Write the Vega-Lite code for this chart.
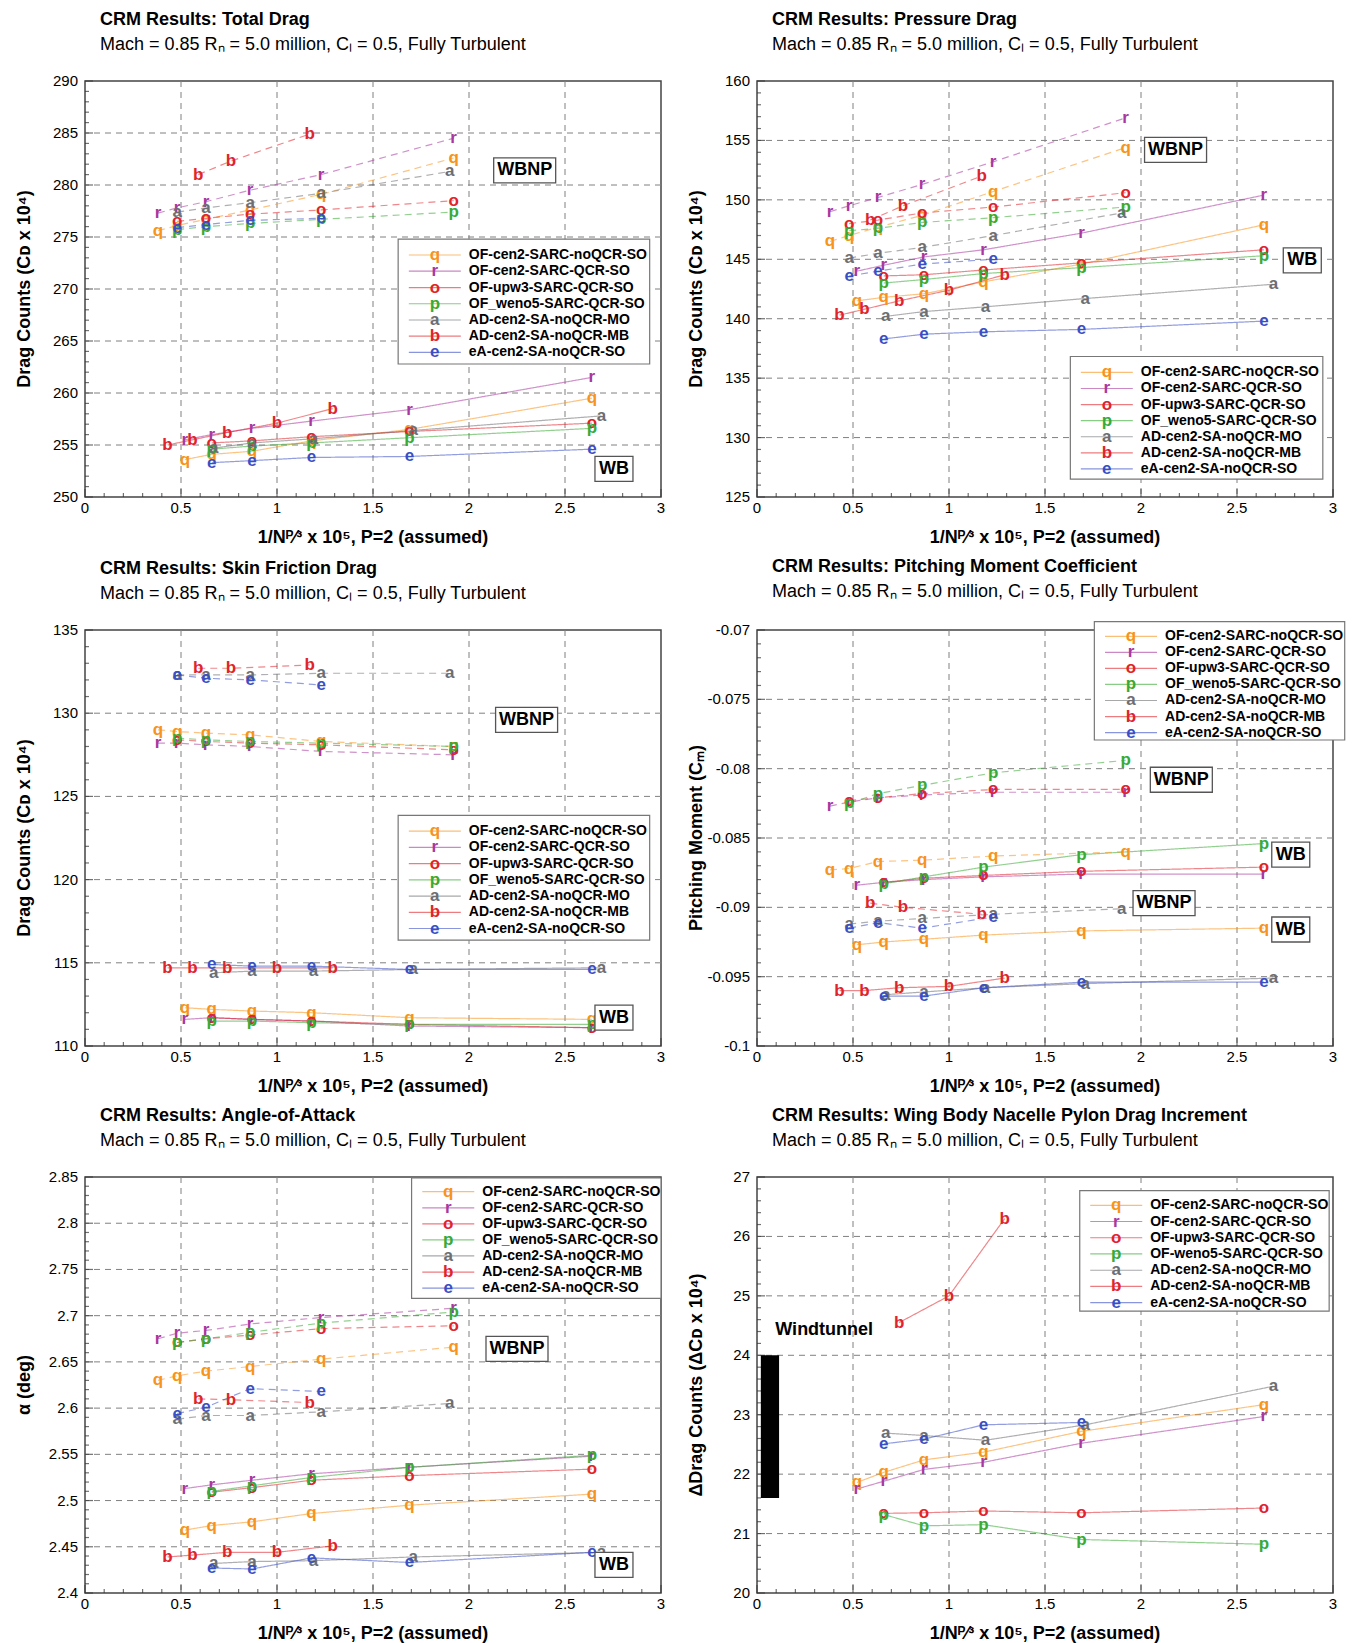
{
"padding":{"left":15,"top":10,"right":0,"bottom":0},
"background":"white",
"spacing":9,
"config":{
 "font":"Liberation Sans",
 "view":{"stroke":"#444","strokeWidth":1.5},
 "axis":{"disable":true},
 "legend":{"disable":true},
 "title":{"anchor":"start","frame":"group","dx":15,"fontSize":18,"fontWeight":"bold","color":"#000","subtitleFontSize":18,"subtitleColor":"#000","subtitlePadding":7,"offset":20}
},
"datasets":{
 "xticks":[{"v":0,"kind":"major","label":"0"},{"v":0.1,"kind":"minor"},{"v":0.2,"kind":"minor"},{"v":0.3,"kind":"minor"},{"v":0.4,"kind":"minor"},{"v":0.5,"kind":"major","label":"0.5"},{"v":0.6,"kind":"minor"},{"v":0.7,"kind":"minor"},{"v":0.8,"kind":"minor"},{"v":0.9,"kind":"minor"},{"v":1,"kind":"major","label":"1"},{"v":1.1,"kind":"minor"},{"v":1.2,"kind":"minor"},{"v":1.3,"kind":"minor"},{"v":1.4,"kind":"minor"},{"v":1.5,"kind":"major","label":"1.5"},{"v":1.6,"kind":"minor"},{"v":1.7,"kind":"minor"},{"v":1.8,"kind":"minor"},{"v":1.9,"kind":"minor"},{"v":2,"kind":"major","label":"2"},{"v":2.1,"kind":"minor"},{"v":2.2,"kind":"minor"},{"v":2.3,"kind":"minor"},{"v":2.4,"kind":"minor"},{"v":2.5,"kind":"major","label":"2.5"},{"v":2.6,"kind":"minor"},{"v":2.7,"kind":"minor"},{"v":2.8,"kind":"minor"},{"v":2.9,"kind":"minor"},{"v":3,"kind":"major","label":"3"}],
 "yticks":[
{"panel":"T","v":250,"kind":"major","label":"250"},{"panel":"T","v":251,"kind":"minor"},{"panel":"T","v":252,"kind":"minor"},{"panel":"T","v":253,"kind":"minor"},{"panel":"T","v":254,"kind":"minor"},{"panel":"T","v":255,"kind":"major","label":"255"},{"panel":"T","v":256,"kind":"minor"},{"panel":"T","v":257,"kind":"minor"},{"panel":"T","v":258,"kind":"minor"},{"panel":"T","v":259,"kind":"minor"},{"panel":"T","v":260,"kind":"major","label":"260"},{"panel":"T","v":261,"kind":"minor"},{"panel":"T","v":262,"kind":"minor"},{"panel":"T","v":263,"kind":"minor"},{"panel":"T","v":264,"kind":"minor"},{"panel":"T","v":265,"kind":"major","label":"265"},{"panel":"T","v":266,"kind":"minor"},{"panel":"T","v":267,"kind":"minor"},{"panel":"T","v":268,"kind":"minor"},{"panel":"T","v":269,"kind":"minor"},{"panel":"T","v":270,"kind":"major","label":"270"},{"panel":"T","v":271,"kind":"minor"},{"panel":"T","v":272,"kind":"minor"},{"panel":"T","v":273,"kind":"minor"},{"panel":"T","v":274,"kind":"minor"},{"panel":"T","v":275,"kind":"major","label":"275"},{"panel":"T","v":276,"kind":"minor"},{"panel":"T","v":277,"kind":"minor"},{"panel":"T","v":278,"kind":"minor"},{"panel":"T","v":279,"kind":"minor"},{"panel":"T","v":280,"kind":"major","label":"280"},{"panel":"T","v":281,"kind":"minor"},{"panel":"T","v":282,"kind":"minor"},{"panel":"T","v":283,"kind":"minor"},{"panel":"T","v":284,"kind":"minor"},{"panel":"T","v":285,"kind":"major","label":"285"},{"panel":"T","v":286,"kind":"minor"},{"panel":"T","v":287,"kind":"minor"},{"panel":"T","v":288,"kind":"minor"},{"panel":"T","v":289,"kind":"minor"},{"panel":"T","v":290,"kind":"major","label":"290"},
{"panel":"P","v":125,"kind":"major","label":"125"},{"panel":"P","v":126,"kind":"minor"},{"panel":"P","v":127,"kind":"minor"},{"panel":"P","v":128,"kind":"minor"},{"panel":"P","v":129,"kind":"minor"},{"panel":"P","v":130,"kind":"major","label":"130"},{"panel":"P","v":131,"kind":"minor"},{"panel":"P","v":132,"kind":"minor"},{"panel":"P","v":133,"kind":"minor"},{"panel":"P","v":134,"kind":"minor"},{"panel":"P","v":135,"kind":"major","label":"135"},{"panel":"P","v":136,"kind":"minor"},{"panel":"P","v":137,"kind":"minor"},{"panel":"P","v":138,"kind":"minor"},{"panel":"P","v":139,"kind":"minor"},{"panel":"P","v":140,"kind":"major","label":"140"},{"panel":"P","v":141,"kind":"minor"},{"panel":"P","v":142,"kind":"minor"},{"panel":"P","v":143,"kind":"minor"},{"panel":"P","v":144,"kind":"minor"},{"panel":"P","v":145,"kind":"major","label":"145"},{"panel":"P","v":146,"kind":"minor"},{"panel":"P","v":147,"kind":"minor"},{"panel":"P","v":148,"kind":"minor"},{"panel":"P","v":149,"kind":"minor"},{"panel":"P","v":150,"kind":"major","label":"150"},{"panel":"P","v":151,"kind":"minor"},{"panel":"P","v":152,"kind":"minor"},{"panel":"P","v":153,"kind":"minor"},{"panel":"P","v":154,"kind":"minor"},{"panel":"P","v":155,"kind":"major","label":"155"},{"panel":"P","v":156,"kind":"minor"},{"panel":"P","v":157,"kind":"minor"},{"panel":"P","v":158,"kind":"minor"},{"panel":"P","v":159,"kind":"minor"},{"panel":"P","v":160,"kind":"major","label":"160"},
{"panel":"S","v":110,"kind":"major","label":"110"},{"panel":"S","v":111,"kind":"minor"},{"panel":"S","v":112,"kind":"minor"},{"panel":"S","v":113,"kind":"minor"},{"panel":"S","v":114,"kind":"minor"},{"panel":"S","v":115,"kind":"major","label":"115"},{"panel":"S","v":116,"kind":"minor"},{"panel":"S","v":117,"kind":"minor"},{"panel":"S","v":118,"kind":"minor"},{"panel":"S","v":119,"kind":"minor"},{"panel":"S","v":120,"kind":"major","label":"120"},{"panel":"S","v":121,"kind":"minor"},{"panel":"S","v":122,"kind":"minor"},{"panel":"S","v":123,"kind":"minor"},{"panel":"S","v":124,"kind":"minor"},{"panel":"S","v":125,"kind":"major","label":"125"},{"panel":"S","v":126,"kind":"minor"},{"panel":"S","v":127,"kind":"minor"},{"panel":"S","v":128,"kind":"minor"},{"panel":"S","v":129,"kind":"minor"},{"panel":"S","v":130,"kind":"major","label":"130"},{"panel":"S","v":131,"kind":"minor"},{"panel":"S","v":132,"kind":"minor"},{"panel":"S","v":133,"kind":"minor"},{"panel":"S","v":134,"kind":"minor"},{"panel":"S","v":135,"kind":"major","label":"135"},
{"panel":"M","v":-0.1,"kind":"major","label":"-0.1"},{"panel":"M","v":-0.099,"kind":"minor"},{"panel":"M","v":-0.098,"kind":"minor"},{"panel":"M","v":-0.097,"kind":"minor"},{"panel":"M","v":-0.096,"kind":"minor"},{"panel":"M","v":-0.095,"kind":"major","label":"-0.095"},{"panel":"M","v":-0.094,"kind":"minor"},{"panel":"M","v":-0.093,"kind":"minor"},{"panel":"M","v":-0.092,"kind":"minor"},{"panel":"M","v":-0.091,"kind":"minor"},{"panel":"M","v":-0.09,"kind":"major","label":"-0.09"},{"panel":"M","v":-0.089,"kind":"minor"},{"panel":"M","v":-0.088,"kind":"minor"},{"panel":"M","v":-0.087,"kind":"minor"},{"panel":"M","v":-0.086,"kind":"minor"},{"panel":"M","v":-0.085,"kind":"major","label":"-0.085"},{"panel":"M","v":-0.084,"kind":"minor"},{"panel":"M","v":-0.083,"kind":"minor"},{"panel":"M","v":-0.082,"kind":"minor"},{"panel":"M","v":-0.081,"kind":"minor"},{"panel":"M","v":-0.08,"kind":"major","label":"-0.08"},{"panel":"M","v":-0.079,"kind":"minor"},{"panel":"M","v":-0.078,"kind":"minor"},{"panel":"M","v":-0.077,"kind":"minor"},{"panel":"M","v":-0.076,"kind":"minor"},{"panel":"M","v":-0.075,"kind":"major","label":"-0.075"},{"panel":"M","v":-0.074,"kind":"minor"},{"panel":"M","v":-0.073,"kind":"minor"},{"panel":"M","v":-0.072,"kind":"minor"},{"panel":"M","v":-0.071,"kind":"minor"},{"panel":"M","v":-0.07,"kind":"major","label":"-0.07"},
{"panel":"A","v":2.4,"kind":"major","label":"2.4"},{"panel":"A","v":2.41,"kind":"minor"},{"panel":"A","v":2.42,"kind":"minor"},{"panel":"A","v":2.43,"kind":"minor"},{"panel":"A","v":2.44,"kind":"minor"},{"panel":"A","v":2.45,"kind":"major","label":"2.45"},{"panel":"A","v":2.46,"kind":"minor"},{"panel":"A","v":2.47,"kind":"minor"},{"panel":"A","v":2.48,"kind":"minor"},{"panel":"A","v":2.49,"kind":"minor"},{"panel":"A","v":2.5,"kind":"major","label":"2.5"},{"panel":"A","v":2.51,"kind":"minor"},{"panel":"A","v":2.52,"kind":"minor"},{"panel":"A","v":2.53,"kind":"minor"},{"panel":"A","v":2.54,"kind":"minor"},{"panel":"A","v":2.55,"kind":"major","label":"2.55"},{"panel":"A","v":2.56,"kind":"minor"},{"panel":"A","v":2.57,"kind":"minor"},{"panel":"A","v":2.58,"kind":"minor"},{"panel":"A","v":2.59,"kind":"minor"},{"panel":"A","v":2.6,"kind":"major","label":"2.6"},{"panel":"A","v":2.61,"kind":"minor"},{"panel":"A","v":2.62,"kind":"minor"},{"panel":"A","v":2.63,"kind":"minor"},{"panel":"A","v":2.64,"kind":"minor"},{"panel":"A","v":2.65,"kind":"major","label":"2.65"},{"panel":"A","v":2.66,"kind":"minor"},{"panel":"A","v":2.67,"kind":"minor"},{"panel":"A","v":2.68,"kind":"minor"},{"panel":"A","v":2.69,"kind":"minor"},{"panel":"A","v":2.7,"kind":"major","label":"2.7"},{"panel":"A","v":2.71,"kind":"minor"},{"panel":"A","v":2.72,"kind":"minor"},{"panel":"A","v":2.73,"kind":"minor"},{"panel":"A","v":2.74,"kind":"minor"},{"panel":"A","v":2.75,"kind":"major","label":"2.75"},{"panel":"A","v":2.76,"kind":"minor"},{"panel":"A","v":2.77,"kind":"minor"},{"panel":"A","v":2.78,"kind":"minor"},{"panel":"A","v":2.79,"kind":"minor"},{"panel":"A","v":2.8,"kind":"major","label":"2.8"},{"panel":"A","v":2.81,"kind":"minor"},{"panel":"A","v":2.82,"kind":"minor"},{"panel":"A","v":2.83,"kind":"minor"},{"panel":"A","v":2.84,"kind":"minor"},{"panel":"A","v":2.85,"kind":"major","label":"2.85"},
{"panel":"I","v":20,"kind":"major","label":"20"},{"panel":"I","v":20.2,"kind":"minor"},{"panel":"I","v":20.4,"kind":"minor"},{"panel":"I","v":20.6,"kind":"minor"},{"panel":"I","v":20.8,"kind":"minor"},{"panel":"I","v":21,"kind":"major","label":"21"},{"panel":"I","v":21.2,"kind":"minor"},{"panel":"I","v":21.4,"kind":"minor"},{"panel":"I","v":21.6,"kind":"minor"},{"panel":"I","v":21.8,"kind":"minor"},{"panel":"I","v":22,"kind":"major","label":"22"},{"panel":"I","v":22.2,"kind":"minor"},{"panel":"I","v":22.4,"kind":"minor"},{"panel":"I","v":22.6,"kind":"minor"},{"panel":"I","v":22.8,"kind":"minor"},{"panel":"I","v":23,"kind":"major","label":"23"},{"panel":"I","v":23.2,"kind":"minor"},{"panel":"I","v":23.4,"kind":"minor"},{"panel":"I","v":23.6,"kind":"minor"},{"panel":"I","v":23.8,"kind":"minor"},{"panel":"I","v":24,"kind":"major","label":"24"},{"panel":"I","v":24.2,"kind":"minor"},{"panel":"I","v":24.4,"kind":"minor"},{"panel":"I","v":24.6,"kind":"minor"},{"panel":"I","v":24.8,"kind":"minor"},{"panel":"I","v":25,"kind":"major","label":"25"},{"panel":"I","v":25.2,"kind":"minor"},{"panel":"I","v":25.4,"kind":"minor"},{"panel":"I","v":25.6,"kind":"minor"},{"panel":"I","v":25.8,"kind":"minor"},{"panel":"I","v":26,"kind":"major","label":"26"},{"panel":"I","v":26.2,"kind":"minor"},{"panel":"I","v":26.4,"kind":"minor"},{"panel":"I","v":26.6,"kind":"minor"},{"panel":"I","v":26.8,"kind":"minor"},{"panel":"I","v":27,"kind":"major","label":"27"}
 ],
 "axtitles":[
{"panel":"T","axis":"x","x":1.5,"y":246.06,"text":"1/Nᴾ⁄³ x 10⁵, P=2 (assumed)"},{"panel":"T","axis":"y","x":-0.3125,"y":270,"text":"Drag Counts (Cᴅ x 10⁴)"},
{"panel":"P","axis":"x","x":1.5,"y":121.55,"text":"1/Nᴾ⁄³ x 10⁵, P=2 (assumed)"},{"panel":"P","axis":"y","x":-0.3125,"y":142.5,"text":"Drag Counts (Cᴅ x 10⁴)"},
{"panel":"S","axis":"x","x":1.5,"y":107.54,"text":"1/Nᴾ⁄³ x 10⁵, P=2 (assumed)"},{"panel":"S","axis":"y","x":-0.3125,"y":122.5,"text":"Drag Counts (Cᴅ x 10⁴)"},
{"panel":"M","axis":"x","x":1.5,"y":-0.102957,"text":"1/Nᴾ⁄³ x 10⁵, P=2 (assumed)"},{"panel":"M","axis":"y","x":-0.3125,"y":-0.085,"text":"Pitching Moment (Cₘ)"},
{"panel":"A","axis":"x","x":1.5,"y":2.35565,"text":"1/Nᴾ⁄³ x 10⁵, P=2 (assumed)"},{"panel":"A","axis":"y","x":-0.3125,"y":2.625,"text":"α (deg)"},
{"panel":"I","axis":"x","x":1.5,"y":19.31,"text":"1/Nᴾ⁄³ x 10⁵, P=2 (assumed)"},{"panel":"I","axis":"y","x":-0.3125,"y":23.5,"text":"ΔDrag Counts (ΔCᴅ x 10⁴)"}
 ],
 "legbox":[{"panel":"T","x":1.631,"x2":2.941,"y":274.79,"y2":262.79},{"panel":"P","x":1.632,"x2":2.947,"y":136.82,"y2":126.51},{"panel":"S","x":1.631,"x2":2.941,"y":123.86,"y2":116.36},{"panel":"M","x":1.757,"x2":3.061,"y":-0.069394,"y2":-0.077933},{"panel":"A","x":1.701,"x2":3.0,"y":2.8489,"y2":2.7186},{"panel":"I","x":1.681,"x2":2.98,"y":26.771,"y2":24.744}],
 "legend":[
{"panel":"T","code":"q","method":"OF-cen2-SARC-noQCR-SO","x":1.822,"y":273.27},{"panel":"T","code":"r","method":"OF-cen2-SARC-QCR-SO","x":1.822,"y":271.71},{"panel":"T","code":"o","method":"OF-upw3-SARC-QCR-SO","x":1.822,"y":270.14},{"panel":"T","code":"p","method":"OF_weno5-SARC-QCR-SO","x":1.822,"y":268.58},{"panel":"T","code":"a","method":"AD-cen2-SA-noQCR-MO","x":1.822,"y":267.02},{"panel":"T","code":"b","method":"AD-cen2-SA-noQCR-MB","x":1.822,"y":265.46},{"panel":"T","code":"e","method":"eA-cen2-SA-noQCR-SO","x":1.822,"y":263.9},
{"panel":"P","code":"q","method":"OF-cen2-SARC-noQCR-SO","x":1.822,"y":135.48},{"panel":"P","code":"r","method":"OF-cen2-SARC-QCR-SO","x":1.822,"y":134.13},{"panel":"P","code":"o","method":"OF-upw3-SARC-QCR-SO","x":1.822,"y":132.77},{"panel":"P","code":"p","method":"OF_weno5-SARC-QCR-SO","x":1.822,"y":131.42},{"panel":"P","code":"a","method":"AD-cen2-SA-noQCR-MO","x":1.822,"y":130.07},{"panel":"P","code":"b","method":"AD-cen2-SA-noQCR-MB","x":1.822,"y":128.72},{"panel":"P","code":"e","method":"eA-cen2-SA-noQCR-SO","x":1.822,"y":127.37},
{"panel":"S","code":"q","method":"OF-cen2-SARC-noQCR-SO","x":1.822,"y":122.91},{"panel":"S","code":"r","method":"OF-cen2-SARC-QCR-SO","x":1.822,"y":121.94},{"panel":"S","code":"o","method":"OF-upw3-SARC-QCR-SO","x":1.822,"y":120.96},{"panel":"S","code":"p","method":"OF_weno5-SARC-QCR-SO","x":1.822,"y":119.98},{"panel":"S","code":"a","method":"AD-cen2-SA-noQCR-MO","x":1.822,"y":119.01},{"panel":"S","code":"b","method":"AD-cen2-SA-noQCR-MB","x":1.822,"y":118.03},{"panel":"S","code":"e","method":"eA-cen2-SA-noQCR-SO","x":1.822,"y":117.06},
{"panel":"M","code":"q","method":"OF-cen2-SARC-noQCR-SO","x":1.948,"y":-0.070454},{"panel":"M","code":"r","method":"OF-cen2-SARC-QCR-SO","x":1.948,"y":-0.071612},{"panel":"M","code":"o","method":"OF-upw3-SARC-QCR-SO","x":1.948,"y":-0.072769},{"panel":"M","code":"p","method":"OF_weno5-SARC-QCR-SO","x":1.948,"y":-0.073927},{"panel":"M","code":"a","method":"AD-cen2-SA-noQCR-MO","x":1.948,"y":-0.075084},{"panel":"M","code":"b","method":"AD-cen2-SA-noQCR-MB","x":1.948,"y":-0.076242},{"panel":"M","code":"e","method":"eA-cen2-SA-noQCR-SO","x":1.948,"y":-0.077399},
{"panel":"A","code":"q","method":"OF-cen2-SARC-noQCR-SO","x":1.892,"y":2.8341},{"panel":"A","code":"r","method":"OF-cen2-SARC-QCR-SO","x":1.892,"y":2.8167},{"panel":"A","code":"o","method":"OF-upw3-SARC-QCR-SO","x":1.892,"y":2.7993},{"panel":"A","code":"p","method":"OF_weno5-SARC-QCR-SO","x":1.892,"y":2.7819},{"panel":"A","code":"a","method":"AD-cen2-SA-noQCR-MO","x":1.892,"y":2.7646},{"panel":"A","code":"b","method":"AD-cen2-SA-noQCR-MB","x":1.892,"y":2.7472},{"panel":"A","code":"e","method":"eA-cen2-SA-noQCR-SO","x":1.892,"y":2.7298},
{"panel":"I","code":"q","method":"OF-cen2-SARC-noQCR-SO","x":1.871,"y":26.524},{"panel":"I","code":"r","method":"OF-cen2-SARC-QCR-SO","x":1.871,"y":26.251},{"panel":"I","code":"o","method":"OF-upw3-SARC-QCR-SO","x":1.871,"y":25.978},{"panel":"I","code":"p","method":"OF-weno5-SARC-QCR-SO","x":1.871,"y":25.705},{"panel":"I","code":"a","method":"AD-cen2-SA-noQCR-MO","x":1.871,"y":25.431},{"panel":"I","code":"b","method":"AD-cen2-SA-noQCR-MB","x":1.871,"y":25.158},{"panel":"I","code":"e","method":"eA-cen2-SA-noQCR-SO","x":1.871,"y":24.885}
 ],
 "notes":[{"panel":"T","label":"WBNP","x":2.29,"y":281.4},{"panel":"T","label":"WB","x":2.755,"y":252.7},{"panel":"P","label":"WBNP","x":2.18,"y":154.2},{"panel":"P","label":"WB","x":2.84,"y":144.9},{"panel":"S","label":"WBNP","x":2.3,"y":129.6},{"panel":"S","label":"WB","x":2.755,"y":111.7},{"panel":"M","label":"WBNP","x":2.21,"y":-0.0808},{"panel":"M","label":"WB","x":2.78,"y":-0.0862},{"panel":"M","label":"WBNP","x":2.12,"y":-0.0897},{"panel":"M","label":"WB","x":2.78,"y":-0.0916},{"panel":"A","label":"WBNP","x":2.25,"y":2.664},{"panel":"A","label":"WB","x":2.755,"y":2.4305},{"panel":"I","label":"Windtunnel","x":0.35,"y":24.42}],
 "bars":[{"panel":"I","x":0.02,"x2":0.115,"y":21.6,"y2":24.0}],
 "pts":[
{"panel":"T","cfg":"WB","code":"q","x":0.52,"y":253.6},{"panel":"T","cfg":"WB","code":"q","x":0.66,"y":254.1},{"panel":"T","cfg":"WB","code":"q","x":0.87,"y":254.4},{"panel":"T","cfg":"WB","code":"q","x":1.18,"y":255.4},{"panel":"T","cfg":"WB","code":"q","x":1.69,"y":256.5},{"panel":"T","cfg":"WB","code":"q","x":2.64,"y":259.5},
{"panel":"T","cfg":"WB","code":"r","x":0.52,"y":255.5},{"panel":"T","cfg":"WB","code":"r","x":0.66,"y":256.0},{"panel":"T","cfg":"WB","code":"r","x":0.87,"y":256.6},{"panel":"T","cfg":"WB","code":"r","x":1.18,"y":257.3},{"panel":"T","cfg":"WB","code":"r","x":1.69,"y":258.4},{"panel":"T","cfg":"WB","code":"r","x":2.64,"y":261.5},
{"panel":"T","cfg":"WB","code":"o","x":0.66,"y":255.2},{"panel":"T","cfg":"WB","code":"o","x":0.87,"y":255.4},{"panel":"T","cfg":"WB","code":"o","x":1.18,"y":255.8},{"panel":"T","cfg":"WB","code":"o","x":1.69,"y":256.3},{"panel":"T","cfg":"WB","code":"o","x":2.64,"y":257.1},
{"panel":"T","cfg":"WB","code":"p","x":0.66,"y":254.6},{"panel":"T","cfg":"WB","code":"p","x":0.87,"y":254.9},{"panel":"T","cfg":"WB","code":"p","x":1.18,"y":255.2},{"panel":"T","cfg":"WB","code":"p","x":1.69,"y":255.7},{"panel":"T","cfg":"WB","code":"p","x":2.64,"y":256.6},
{"panel":"T","cfg":"WB","code":"a","x":0.67,"y":254.7},{"panel":"T","cfg":"WB","code":"a","x":0.87,"y":255.2},{"panel":"T","cfg":"WB","code":"a","x":1.19,"y":255.6},{"panel":"T","cfg":"WB","code":"a","x":1.71,"y":256.4},{"panel":"T","cfg":"WB","code":"a","x":2.69,"y":257.8},
{"panel":"T","cfg":"WB","code":"b","x":0.43,"y":255.0},{"panel":"T","cfg":"WB","code":"b","x":0.56,"y":255.5},{"panel":"T","cfg":"WB","code":"b","x":0.74,"y":256.2},{"panel":"T","cfg":"WB","code":"b","x":1.0,"y":257.1},{"panel":"T","cfg":"WB","code":"b","x":1.29,"y":258.5},
{"panel":"T","cfg":"WB","code":"e","x":0.66,"y":253.3},{"panel":"T","cfg":"WB","code":"e","x":0.87,"y":253.5},{"panel":"T","cfg":"WB","code":"e","x":1.18,"y":253.8},{"panel":"T","cfg":"WB","code":"e","x":1.69,"y":253.9},{"panel":"T","cfg":"WB","code":"e","x":2.64,"y":254.6},
{"panel":"T","cfg":"WBNP","code":"q","x":0.38,"y":275.6},{"panel":"T","cfg":"WBNP","code":"q","x":0.48,"y":276.1},{"panel":"T","cfg":"WBNP","code":"q","x":0.63,"y":276.7},{"panel":"T","cfg":"WBNP","code":"q","x":0.86,"y":277.6},{"panel":"T","cfg":"WBNP","code":"q","x":1.23,"y":279.1},{"panel":"T","cfg":"WBNP","code":"q","x":1.92,"y":282.6},
{"panel":"T","cfg":"WBNP","code":"r","x":0.38,"y":277.3},{"panel":"T","cfg":"WBNP","code":"r","x":0.48,"y":277.8},{"panel":"T","cfg":"WBNP","code":"r","x":0.63,"y":278.4},{"panel":"T","cfg":"WBNP","code":"r","x":0.86,"y":279.5},{"panel":"T","cfg":"WBNP","code":"r","x":1.23,"y":281.0},{"panel":"T","cfg":"WBNP","code":"r","x":1.92,"y":284.5},
{"panel":"T","cfg":"WBNP","code":"o","x":0.48,"y":276.5},{"panel":"T","cfg":"WBNP","code":"o","x":0.63,"y":276.8},{"panel":"T","cfg":"WBNP","code":"o","x":0.86,"y":277.2},{"panel":"T","cfg":"WBNP","code":"o","x":1.23,"y":277.6},{"panel":"T","cfg":"WBNP","code":"o","x":1.92,"y":278.5},
{"panel":"T","cfg":"WBNP","code":"p","x":0.48,"y":275.7},{"panel":"T","cfg":"WBNP","code":"p","x":0.63,"y":276.0},{"panel":"T","cfg":"WBNP","code":"p","x":0.86,"y":276.3},{"panel":"T","cfg":"WBNP","code":"p","x":1.23,"y":276.7},{"panel":"T","cfg":"WBNP","code":"p","x":1.92,"y":277.4},
{"panel":"T","cfg":"WBNP","code":"a","x":0.48,"y":277.4},{"panel":"T","cfg":"WBNP","code":"a","x":0.63,"y":277.8},{"panel":"T","cfg":"WBNP","code":"a","x":0.86,"y":278.3},{"panel":"T","cfg":"WBNP","code":"a","x":1.23,"y":279.2},{"panel":"T","cfg":"WBNP","code":"a","x":1.9,"y":281.3},
{"panel":"T","cfg":"WBNP","code":"b","x":0.59,"y":281.0},{"panel":"T","cfg":"WBNP","code":"b","x":0.76,"y":282.3},{"panel":"T","cfg":"WBNP","code":"b","x":1.17,"y":284.9},
{"panel":"T","cfg":"WBNP","code":"e","x":0.48,"y":275.9},{"panel":"T","cfg":"WBNP","code":"e","x":0.63,"y":276.2},{"panel":"T","cfg":"WBNP","code":"e","x":0.86,"y":276.6},{"panel":"T","cfg":"WBNP","code":"e","x":1.23,"y":276.8},
{"panel":"P","cfg":"WB","code":"q","x":0.52,"y":141.5},{"panel":"P","cfg":"WB","code":"q","x":0.66,"y":141.8},{"panel":"P","cfg":"WB","code":"q","x":0.87,"y":142.1},{"panel":"P","cfg":"WB","code":"q","x":1.18,"y":143.1},{"panel":"P","cfg":"WB","code":"q","x":1.69,"y":144.6},{"panel":"P","cfg":"WB","code":"q","x":2.64,"y":147.9},
{"panel":"P","cfg":"WB","code":"r","x":0.52,"y":144.0},{"panel":"P","cfg":"WB","code":"r","x":0.66,"y":144.5},{"panel":"P","cfg":"WB","code":"r","x":0.87,"y":145.2},{"panel":"P","cfg":"WB","code":"r","x":1.18,"y":145.8},{"panel":"P","cfg":"WB","code":"r","x":1.69,"y":147.2},{"panel":"P","cfg":"WB","code":"r","x":2.64,"y":150.4},
{"panel":"P","cfg":"WB","code":"o","x":0.66,"y":143.6},{"panel":"P","cfg":"WB","code":"o","x":0.87,"y":143.7},{"panel":"P","cfg":"WB","code":"o","x":1.18,"y":144.1},{"panel":"P","cfg":"WB","code":"o","x":1.69,"y":144.7},{"panel":"P","cfg":"WB","code":"o","x":2.64,"y":145.8},
{"panel":"P","cfg":"WB","code":"p","x":0.66,"y":143.0},{"panel":"P","cfg":"WB","code":"p","x":0.87,"y":143.3},{"panel":"P","cfg":"WB","code":"p","x":1.18,"y":143.8},{"panel":"P","cfg":"WB","code":"p","x":1.69,"y":144.3},{"panel":"P","cfg":"WB","code":"p","x":2.64,"y":145.3},
{"panel":"P","cfg":"WB","code":"a","x":0.67,"y":140.2},{"panel":"P","cfg":"WB","code":"a","x":0.87,"y":140.6},{"panel":"P","cfg":"WB","code":"a","x":1.19,"y":141.0},{"panel":"P","cfg":"WB","code":"a","x":1.71,"y":141.7},{"panel":"P","cfg":"WB","code":"a","x":2.69,"y":142.9},
{"panel":"P","cfg":"WB","code":"b","x":0.43,"y":140.3},{"panel":"P","cfg":"WB","code":"b","x":0.56,"y":140.8},{"panel":"P","cfg":"WB","code":"b","x":0.74,"y":141.5},{"panel":"P","cfg":"WB","code":"b","x":1.0,"y":142.4},{"panel":"P","cfg":"WB","code":"b","x":1.29,"y":143.7},
{"panel":"P","cfg":"WB","code":"e","x":0.66,"y":138.3},{"panel":"P","cfg":"WB","code":"e","x":0.87,"y":138.7},{"panel":"P","cfg":"WB","code":"e","x":1.18,"y":138.9},{"panel":"P","cfg":"WB","code":"e","x":1.69,"y":139.1},{"panel":"P","cfg":"WB","code":"e","x":2.64,"y":139.8},
{"panel":"P","cfg":"WBNP","code":"q","x":0.38,"y":146.5},{"panel":"P","cfg":"WBNP","code":"q","x":0.48,"y":147.0},{"panel":"P","cfg":"WBNP","code":"q","x":0.63,"y":147.7},{"panel":"P","cfg":"WBNP","code":"q","x":0.86,"y":148.7},{"panel":"P","cfg":"WBNP","code":"q","x":1.23,"y":150.7},{"panel":"P","cfg":"WBNP","code":"q","x":1.92,"y":154.4},
{"panel":"P","cfg":"WBNP","code":"r","x":0.38,"y":149.0},{"panel":"P","cfg":"WBNP","code":"r","x":0.48,"y":149.5},{"panel":"P","cfg":"WBNP","code":"r","x":0.63,"y":150.2},{"panel":"P","cfg":"WBNP","code":"r","x":0.86,"y":151.3},{"panel":"P","cfg":"WBNP","code":"r","x":1.23,"y":153.2},{"panel":"P","cfg":"WBNP","code":"r","x":1.92,"y":156.9},
{"panel":"P","cfg":"WBNP","code":"o","x":0.48,"y":148.0},{"panel":"P","cfg":"WBNP","code":"o","x":0.63,"y":148.3},{"panel":"P","cfg":"WBNP","code":"o","x":0.86,"y":148.9},{"panel":"P","cfg":"WBNP","code":"o","x":1.23,"y":149.4},{"panel":"P","cfg":"WBNP","code":"o","x":1.92,"y":150.6},
{"panel":"P","cfg":"WBNP","code":"p","x":0.48,"y":147.4},{"panel":"P","cfg":"WBNP","code":"p","x":0.63,"y":147.6},{"panel":"P","cfg":"WBNP","code":"p","x":0.86,"y":148.1},{"panel":"P","cfg":"WBNP","code":"p","x":1.23,"y":148.5},{"panel":"P","cfg":"WBNP","code":"p","x":1.92,"y":149.4},
{"panel":"P","cfg":"WBNP","code":"a","x":0.48,"y":145.1},{"panel":"P","cfg":"WBNP","code":"a","x":0.63,"y":145.5},{"panel":"P","cfg":"WBNP","code":"a","x":0.86,"y":146.0},{"panel":"P","cfg":"WBNP","code":"a","x":1.23,"y":147.0},{"panel":"P","cfg":"WBNP","code":"a","x":1.9,"y":148.9},
{"panel":"P","cfg":"WBNP","code":"b","x":0.59,"y":148.3},{"panel":"P","cfg":"WBNP","code":"b","x":0.76,"y":149.5},{"panel":"P","cfg":"WBNP","code":"b","x":1.17,"y":152.0},
{"panel":"P","cfg":"WBNP","code":"e","x":0.48,"y":143.6},{"panel":"P","cfg":"WBNP","code":"e","x":0.63,"y":144.0},{"panel":"P","cfg":"WBNP","code":"e","x":0.86,"y":144.6},{"panel":"P","cfg":"WBNP","code":"e","x":1.23,"y":145.0},
{"panel":"S","cfg":"WB","code":"q","x":0.52,"y":112.3},{"panel":"S","cfg":"WB","code":"q","x":0.66,"y":112.2},{"panel":"S","cfg":"WB","code":"q","x":0.87,"y":112.1},{"panel":"S","cfg":"WB","code":"q","x":1.18,"y":112.0},{"panel":"S","cfg":"WB","code":"q","x":1.69,"y":111.7},{"panel":"S","cfg":"WB","code":"q","x":2.64,"y":111.6},
{"panel":"S","cfg":"WB","code":"r","x":0.52,"y":111.6},{"panel":"S","cfg":"WB","code":"r","x":0.66,"y":111.7},{"panel":"S","cfg":"WB","code":"r","x":0.87,"y":111.6},{"panel":"S","cfg":"WB","code":"r","x":1.18,"y":111.5},{"panel":"S","cfg":"WB","code":"r","x":1.69,"y":111.2},{"panel":"S","cfg":"WB","code":"r","x":2.64,"y":111.1},
{"panel":"S","cfg":"WB","code":"o","x":0.66,"y":111.7},{"panel":"S","cfg":"WB","code":"o","x":0.87,"y":111.6},{"panel":"S","cfg":"WB","code":"o","x":1.18,"y":111.5},{"panel":"S","cfg":"WB","code":"o","x":1.69,"y":111.3},{"panel":"S","cfg":"WB","code":"o","x":2.64,"y":111.1},
{"panel":"S","cfg":"WB","code":"p","x":0.66,"y":111.5},{"panel":"S","cfg":"WB","code":"p","x":0.87,"y":111.5},{"panel":"S","cfg":"WB","code":"p","x":1.18,"y":111.4},{"panel":"S","cfg":"WB","code":"p","x":1.69,"y":111.3},{"panel":"S","cfg":"WB","code":"p","x":2.64,"y":111.3},
{"panel":"S","cfg":"WB","code":"a","x":0.67,"y":114.4},{"panel":"S","cfg":"WB","code":"a","x":0.87,"y":114.5},{"panel":"S","cfg":"WB","code":"a","x":1.19,"y":114.5},{"panel":"S","cfg":"WB","code":"a","x":1.71,"y":114.6},{"panel":"S","cfg":"WB","code":"a","x":2.69,"y":114.7},
{"panel":"S","cfg":"WB","code":"b","x":0.43,"y":114.7},{"panel":"S","cfg":"WB","code":"b","x":0.56,"y":114.7},{"panel":"S","cfg":"WB","code":"b","x":0.74,"y":114.7},{"panel":"S","cfg":"WB","code":"b","x":1.0,"y":114.7},{"panel":"S","cfg":"WB","code":"b","x":1.29,"y":114.7},
{"panel":"S","cfg":"WB","code":"e","x":0.66,"y":114.9},{"panel":"S","cfg":"WB","code":"e","x":0.87,"y":114.8},{"panel":"S","cfg":"WB","code":"e","x":1.18,"y":114.8},{"panel":"S","cfg":"WB","code":"e","x":1.69,"y":114.6},{"panel":"S","cfg":"WB","code":"e","x":2.64,"y":114.6},
{"panel":"S","cfg":"WBNP","code":"q","x":0.38,"y":129.0},{"panel":"S","cfg":"WBNP","code":"q","x":0.48,"y":128.9},{"panel":"S","cfg":"WBNP","code":"q","x":0.63,"y":128.8},{"panel":"S","cfg":"WBNP","code":"q","x":0.86,"y":128.7},{"panel":"S","cfg":"WBNP","code":"q","x":1.23,"y":128.3},{"panel":"S","cfg":"WBNP","code":"q","x":1.92,"y":128.0},
{"panel":"S","cfg":"WBNP","code":"r","x":0.38,"y":128.2},{"panel":"S","cfg":"WBNP","code":"r","x":0.48,"y":128.2},{"panel":"S","cfg":"WBNP","code":"r","x":0.63,"y":128.1},{"panel":"S","cfg":"WBNP","code":"r","x":0.86,"y":128.0},{"panel":"S","cfg":"WBNP","code":"r","x":1.23,"y":127.7},{"panel":"S","cfg":"WBNP","code":"r","x":1.92,"y":127.5},
{"panel":"S","cfg":"WBNP","code":"o","x":0.48,"y":128.4},{"panel":"S","cfg":"WBNP","code":"o","x":0.63,"y":128.3},{"panel":"S","cfg":"WBNP","code":"o","x":0.86,"y":128.2},{"panel":"S","cfg":"WBNP","code":"o","x":1.23,"y":128.1},{"panel":"S","cfg":"WBNP","code":"o","x":1.92,"y":127.8},
{"panel":"S","cfg":"WBNP","code":"p","x":0.48,"y":128.5},{"panel":"S","cfg":"WBNP","code":"p","x":0.63,"y":128.4},{"panel":"S","cfg":"WBNP","code":"p","x":0.86,"y":128.3},{"panel":"S","cfg":"WBNP","code":"p","x":1.23,"y":128.2},{"panel":"S","cfg":"WBNP","code":"p","x":1.92,"y":128.0},
{"panel":"S","cfg":"WBNP","code":"a","x":0.48,"y":132.3},{"panel":"S","cfg":"WBNP","code":"a","x":0.63,"y":132.3},{"panel":"S","cfg":"WBNP","code":"a","x":0.86,"y":132.3},{"panel":"S","cfg":"WBNP","code":"a","x":1.23,"y":132.4},{"panel":"S","cfg":"WBNP","code":"a","x":1.9,"y":132.4},
{"panel":"S","cfg":"WBNP","code":"b","x":0.59,"y":132.7},{"panel":"S","cfg":"WBNP","code":"b","x":0.76,"y":132.7},{"panel":"S","cfg":"WBNP","code":"b","x":1.17,"y":132.9},
{"panel":"S","cfg":"WBNP","code":"e","x":0.48,"y":132.3},{"panel":"S","cfg":"WBNP","code":"e","x":0.63,"y":132.1},{"panel":"S","cfg":"WBNP","code":"e","x":0.86,"y":132.0},{"panel":"S","cfg":"WBNP","code":"e","x":1.23,"y":131.7},
{"panel":"M","cfg":"WB","code":"q","x":0.52,"y":-0.0927},{"panel":"M","cfg":"WB","code":"q","x":0.66,"y":-0.0925},{"panel":"M","cfg":"WB","code":"q","x":0.87,"y":-0.0923},{"panel":"M","cfg":"WB","code":"q","x":1.18,"y":-0.092},{"panel":"M","cfg":"WB","code":"q","x":1.69,"y":-0.0917},{"panel":"M","cfg":"WB","code":"q","x":2.64,"y":-0.0915},
{"panel":"M","cfg":"WB","code":"r","x":0.52,"y":-0.0884},{"panel":"M","cfg":"WB","code":"r","x":0.66,"y":-0.0882},{"panel":"M","cfg":"WB","code":"r","x":0.87,"y":-0.088},{"panel":"M","cfg":"WB","code":"r","x":1.18,"y":-0.0878},{"panel":"M","cfg":"WB","code":"r","x":1.69,"y":-0.0876},{"panel":"M","cfg":"WB","code":"r","x":2.64,"y":-0.0876},
{"panel":"M","cfg":"WB","code":"o","x":0.66,"y":-0.0882},{"panel":"M","cfg":"WB","code":"o","x":0.87,"y":-0.0879},{"panel":"M","cfg":"WB","code":"o","x":1.18,"y":-0.0877},{"panel":"M","cfg":"WB","code":"o","x":1.69,"y":-0.0874},{"panel":"M","cfg":"WB","code":"o","x":2.64,"y":-0.0871},
{"panel":"M","cfg":"WB","code":"p","x":0.66,"y":-0.0883},{"panel":"M","cfg":"WB","code":"p","x":0.87,"y":-0.0878},{"panel":"M","cfg":"WB","code":"p","x":1.18,"y":-0.0871},{"panel":"M","cfg":"WB","code":"p","x":1.69,"y":-0.0862},{"panel":"M","cfg":"WB","code":"p","x":2.64,"y":-0.0854},
{"panel":"M","cfg":"WB","code":"a","x":0.67,"y":-0.0963},{"panel":"M","cfg":"WB","code":"a","x":0.87,"y":-0.0961},{"panel":"M","cfg":"WB","code":"a","x":1.19,"y":-0.0958},{"panel":"M","cfg":"WB","code":"a","x":1.71,"y":-0.0955},{"panel":"M","cfg":"WB","code":"a","x":2.69,"y":-0.0951},
{"panel":"M","cfg":"WB","code":"b","x":0.43,"y":-0.096},{"panel":"M","cfg":"WB","code":"b","x":0.56,"y":-0.096},{"panel":"M","cfg":"WB","code":"b","x":0.74,"y":-0.0958},{"panel":"M","cfg":"WB","code":"b","x":1.0,"y":-0.0957},{"panel":"M","cfg":"WB","code":"b","x":1.29,"y":-0.0951},
{"panel":"M","cfg":"WB","code":"e","x":0.66,"y":-0.0964},{"panel":"M","cfg":"WB","code":"e","x":0.87,"y":-0.0964},{"panel":"M","cfg":"WB","code":"e","x":1.18,"y":-0.0958},{"panel":"M","cfg":"WB","code":"e","x":1.69,"y":-0.0954},{"panel":"M","cfg":"WB","code":"e","x":2.64,"y":-0.0954},
{"panel":"M","cfg":"WBNP","code":"q","x":0.38,"y":-0.0873},{"panel":"M","cfg":"WBNP","code":"q","x":0.48,"y":-0.0872},{"panel":"M","cfg":"WBNP","code":"q","x":0.63,"y":-0.0867},{"panel":"M","cfg":"WBNP","code":"q","x":0.86,"y":-0.0866},{"panel":"M","cfg":"WBNP","code":"q","x":1.23,"y":-0.0863},{"panel":"M","cfg":"WBNP","code":"q","x":1.92,"y":-0.086},
{"panel":"M","cfg":"WBNP","code":"r","x":0.38,"y":-0.0827},{"panel":"M","cfg":"WBNP","code":"r","x":0.48,"y":-0.0824},{"panel":"M","cfg":"WBNP","code":"r","x":0.63,"y":-0.0821},{"panel":"M","cfg":"WBNP","code":"r","x":0.86,"y":-0.0819},{"panel":"M","cfg":"WBNP","code":"r","x":1.23,"y":-0.0817},{"panel":"M","cfg":"WBNP","code":"r","x":1.92,"y":-0.0817},
{"panel":"M","cfg":"WBNP","code":"o","x":0.48,"y":-0.0823},{"panel":"M","cfg":"WBNP","code":"o","x":0.63,"y":-0.0821},{"panel":"M","cfg":"WBNP","code":"o","x":0.86,"y":-0.0818},{"panel":"M","cfg":"WBNP","code":"o","x":1.23,"y":-0.0815},{"panel":"M","cfg":"WBNP","code":"o","x":1.92,"y":-0.0815},
{"panel":"M","cfg":"WBNP","code":"p","x":0.48,"y":-0.0825},{"panel":"M","cfg":"WBNP","code":"p","x":0.63,"y":-0.0818},{"panel":"M","cfg":"WBNP","code":"p","x":0.86,"y":-0.0812},{"panel":"M","cfg":"WBNP","code":"p","x":1.23,"y":-0.0803},{"panel":"M","cfg":"WBNP","code":"p","x":1.92,"y":-0.0794},
{"panel":"M","cfg":"WBNP","code":"a","x":0.48,"y":-0.0912},{"panel":"M","cfg":"WBNP","code":"a","x":0.63,"y":-0.091},{"panel":"M","cfg":"WBNP","code":"a","x":0.86,"y":-0.0908},{"panel":"M","cfg":"WBNP","code":"a","x":1.23,"y":-0.0905},{"panel":"M","cfg":"WBNP","code":"a","x":1.9,"y":-0.0901},
{"panel":"M","cfg":"WBNP","code":"b","x":0.59,"y":-0.0897},{"panel":"M","cfg":"WBNP","code":"b","x":0.76,"y":-0.09},{"panel":"M","cfg":"WBNP","code":"b","x":1.17,"y":-0.0905},
{"panel":"M","cfg":"WBNP","code":"e","x":0.48,"y":-0.0915},{"panel":"M","cfg":"WBNP","code":"e","x":0.63,"y":-0.0911},{"panel":"M","cfg":"WBNP","code":"e","x":0.86,"y":-0.0915},{"panel":"M","cfg":"WBNP","code":"e","x":1.23,"y":-0.0907},
{"panel":"A","cfg":"WB","code":"q","x":0.52,"y":2.468},{"panel":"A","cfg":"WB","code":"q","x":0.66,"y":2.473},{"panel":"A","cfg":"WB","code":"q","x":0.87,"y":2.477},{"panel":"A","cfg":"WB","code":"q","x":1.18,"y":2.486},{"panel":"A","cfg":"WB","code":"q","x":1.69,"y":2.495},{"panel":"A","cfg":"WB","code":"q","x":2.64,"y":2.507},
{"panel":"A","cfg":"WB","code":"r","x":0.52,"y":2.513},{"panel":"A","cfg":"WB","code":"r","x":0.66,"y":2.517},{"panel":"A","cfg":"WB","code":"r","x":0.87,"y":2.522},{"panel":"A","cfg":"WB","code":"r","x":1.18,"y":2.529},{"panel":"A","cfg":"WB","code":"r","x":1.69,"y":2.536},{"panel":"A","cfg":"WB","code":"r","x":2.64,"y":2.548},
{"panel":"A","cfg":"WB","code":"o","x":0.66,"y":2.509},{"panel":"A","cfg":"WB","code":"o","x":0.87,"y":2.514},{"panel":"A","cfg":"WB","code":"o","x":1.18,"y":2.522},{"panel":"A","cfg":"WB","code":"o","x":1.69,"y":2.527},{"panel":"A","cfg":"WB","code":"o","x":2.64,"y":2.534},
{"panel":"A","cfg":"WB","code":"p","x":0.66,"y":2.51},{"panel":"A","cfg":"WB","code":"p","x":0.87,"y":2.516},{"panel":"A","cfg":"WB","code":"p","x":1.18,"y":2.525},{"panel":"A","cfg":"WB","code":"p","x":1.69,"y":2.536},{"panel":"A","cfg":"WB","code":"p","x":2.64,"y":2.549},
{"panel":"A","cfg":"WB","code":"a","x":0.67,"y":2.432},{"panel":"A","cfg":"WB","code":"a","x":0.87,"y":2.434},{"panel":"A","cfg":"WB","code":"a","x":1.19,"y":2.435},{"panel":"A","cfg":"WB","code":"a","x":1.71,"y":2.439},{"panel":"A","cfg":"WB","code":"a","x":2.69,"y":2.444},
{"panel":"A","cfg":"WB","code":"b","x":0.43,"y":2.439},{"panel":"A","cfg":"WB","code":"b","x":0.56,"y":2.441},{"panel":"A","cfg":"WB","code":"b","x":0.74,"y":2.444},{"panel":"A","cfg":"WB","code":"b","x":1.0,"y":2.444},{"panel":"A","cfg":"WB","code":"b","x":1.29,"y":2.451},
{"panel":"A","cfg":"WB","code":"e","x":0.66,"y":2.427},{"panel":"A","cfg":"WB","code":"e","x":0.87,"y":2.426},{"panel":"A","cfg":"WB","code":"e","x":1.18,"y":2.438},{"panel":"A","cfg":"WB","code":"e","x":1.69,"y":2.433},{"panel":"A","cfg":"WB","code":"e","x":2.64,"y":2.444},
{"panel":"A","cfg":"WBNP","code":"q","x":0.38,"y":2.63},{"panel":"A","cfg":"WBNP","code":"q","x":0.48,"y":2.635},{"panel":"A","cfg":"WBNP","code":"q","x":0.63,"y":2.64},{"panel":"A","cfg":"WBNP","code":"q","x":0.86,"y":2.645},{"panel":"A","cfg":"WBNP","code":"q","x":1.23,"y":2.653},{"panel":"A","cfg":"WBNP","code":"q","x":1.92,"y":2.666},
{"panel":"A","cfg":"WBNP","code":"r","x":0.38,"y":2.675},{"panel":"A","cfg":"WBNP","code":"r","x":0.48,"y":2.681},{"panel":"A","cfg":"WBNP","code":"r","x":0.63,"y":2.684},{"panel":"A","cfg":"WBNP","code":"r","x":0.86,"y":2.691},{"panel":"A","cfg":"WBNP","code":"r","x":1.23,"y":2.698},{"panel":"A","cfg":"WBNP","code":"r","x":1.92,"y":2.708},
{"panel":"A","cfg":"WBNP","code":"o","x":0.48,"y":2.671},{"panel":"A","cfg":"WBNP","code":"o","x":0.63,"y":2.675},{"panel":"A","cfg":"WBNP","code":"o","x":0.86,"y":2.679},{"panel":"A","cfg":"WBNP","code":"o","x":1.23,"y":2.686},{"panel":"A","cfg":"WBNP","code":"o","x":1.92,"y":2.689},
{"panel":"A","cfg":"WBNP","code":"p","x":0.48,"y":2.671},{"panel":"A","cfg":"WBNP","code":"p","x":0.63,"y":2.675},{"panel":"A","cfg":"WBNP","code":"p","x":0.86,"y":2.682},{"panel":"A","cfg":"WBNP","code":"p","x":1.23,"y":2.692},{"panel":"A","cfg":"WBNP","code":"p","x":1.92,"y":2.704},
{"panel":"A","cfg":"WBNP","code":"a","x":0.48,"y":2.588},{"panel":"A","cfg":"WBNP","code":"a","x":0.63,"y":2.592},{"panel":"A","cfg":"WBNP","code":"a","x":0.86,"y":2.592},{"panel":"A","cfg":"WBNP","code":"a","x":1.23,"y":2.596},{"panel":"A","cfg":"WBNP","code":"a","x":1.9,"y":2.605},
{"panel":"A","cfg":"WBNP","code":"b","x":0.59,"y":2.61},{"panel":"A","cfg":"WBNP","code":"b","x":0.76,"y":2.609},{"panel":"A","cfg":"WBNP","code":"b","x":1.17,"y":2.606},
{"panel":"A","cfg":"WBNP","code":"e","x":0.48,"y":2.594},{"panel":"A","cfg":"WBNP","code":"e","x":0.63,"y":2.601},{"panel":"A","cfg":"WBNP","code":"e","x":0.86,"y":2.621},{"panel":"A","cfg":"WBNP","code":"e","x":1.23,"y":2.618},
{"panel":"I","cfg":"WB","code":"q","x":0.52,"y":21.86},{"panel":"I","cfg":"WB","code":"q","x":0.66,"y":22.03},{"panel":"I","cfg":"WB","code":"q","x":0.87,"y":22.24},{"panel":"I","cfg":"WB","code":"q","x":1.18,"y":22.37},{"panel":"I","cfg":"WB","code":"q","x":1.69,"y":22.72},{"panel":"I","cfg":"WB","code":"q","x":2.64,"y":23.17},
{"panel":"I","cfg":"WB","code":"r","x":0.52,"y":21.75},{"panel":"I","cfg":"WB","code":"r","x":0.66,"y":21.88},{"panel":"I","cfg":"WB","code":"r","x":0.87,"y":22.08},{"panel":"I","cfg":"WB","code":"r","x":1.18,"y":22.2},{"panel":"I","cfg":"WB","code":"r","x":1.69,"y":22.52},{"panel":"I","cfg":"WB","code":"r","x":2.64,"y":22.97},
{"panel":"I","cfg":"WB","code":"o","x":0.66,"y":21.34},{"panel":"I","cfg":"WB","code":"o","x":0.87,"y":21.35},{"panel":"I","cfg":"WB","code":"o","x":1.18,"y":21.38},{"panel":"I","cfg":"WB","code":"o","x":1.69,"y":21.35},{"panel":"I","cfg":"WB","code":"o","x":2.64,"y":21.43},
{"panel":"I","cfg":"WB","code":"p","x":0.66,"y":21.32},{"panel":"I","cfg":"WB","code":"p","x":0.87,"y":21.13},{"panel":"I","cfg":"WB","code":"p","x":1.18,"y":21.15},{"panel":"I","cfg":"WB","code":"p","x":1.69,"y":20.9},{"panel":"I","cfg":"WB","code":"p","x":2.64,"y":20.82},
{"panel":"I","cfg":"WB","code":"a","x":0.67,"y":22.69},{"panel":"I","cfg":"WB","code":"a","x":0.87,"y":22.65},{"panel":"I","cfg":"WB","code":"a","x":1.19,"y":22.57},{"panel":"I","cfg":"WB","code":"a","x":1.71,"y":22.83},{"panel":"I","cfg":"WB","code":"a","x":2.69,"y":23.48},
{"panel":"I","cfg":"WB","code":"b","x":0.74,"y":24.55},{"panel":"I","cfg":"WB","code":"b","x":1.0,"y":25.0},{"panel":"I","cfg":"WB","code":"b","x":1.29,"y":26.3},
{"panel":"I","cfg":"WB","code":"e","x":0.66,"y":22.51},{"panel":"I","cfg":"WB","code":"e","x":0.87,"y":22.59},{"panel":"I","cfg":"WB","code":"e","x":1.18,"y":22.83},{"panel":"I","cfg":"WB","code":"e","x":1.69,"y":22.87}
 ]
},
"vconcat":[
{"spacing":21,"hconcat":[
{"width":576,"height":416,
 "title":{"text":"CRM Results: Total Drag","subtitle":"Mach = 0.85 Rₙ = 5.0 million, Cₗ = 0.5, Fully Turbulent"},
 "layer":[
  {"data":{"name":"xticks"},"transform":[{"filter":"datum.kind=='major' && datum.v>0 && datum.v<3"}],"mark":{"type":"rule","color":"#808080","strokeDash":[6,5],"strokeWidth":1},"encoding":{"x":{"field":"v","type":"quantitative","scale":{"domain":[0,3],"nice":false,"zero":false}}}},
  {"data":{"name":"yticks"},"transform":[{"filter":"datum.panel=='T' && datum.kind=='major' && datum.v>250 && datum.v<290"}],"mark":{"type":"rule","color":"#808080","strokeDash":[6,5],"strokeWidth":1},"encoding":{"y":{"field":"v","type":"quantitative","scale":{"domain":[250,290],"nice":false,"zero":false}}}},
  {"data":{"name":"xticks"},"transform":[{"filter":"datum.kind=='major'"}],"mark":{"type":"tick","orient":"vertical","size":8,"thickness":1.2,"yOffset":-4,"color":"#333"},"encoding":{"x":{"field":"v","type":"quantitative"},"y":{"datum":250}}},
  {"data":{"name":"xticks"},"transform":[{"filter":"datum.kind=='minor'"}],"mark":{"type":"tick","orient":"vertical","size":4,"thickness":1.2,"yOffset":-2,"color":"#333"},"encoding":{"x":{"field":"v","type":"quantitative"},"y":{"datum":250}}},
  {"data":{"name":"yticks"},"transform":[{"filter":"datum.panel=='T' && datum.kind=='major'"}],"mark":{"type":"tick","orient":"horizontal","size":8,"thickness":1.2,"xOffset":4,"color":"#333"},"encoding":{"y":{"field":"v","type":"quantitative"},"x":{"datum":0}}},
  {"data":{"name":"yticks"},"transform":[{"filter":"datum.panel=='T' && datum.kind=='minor'"}],"mark":{"type":"tick","orient":"horizontal","size":4,"thickness":1.2,"xOffset":2,"color":"#333"},"encoding":{"y":{"field":"v","type":"quantitative"},"x":{"datum":0}}},
  {"data":{"name":"xticks"},"transform":[{"filter":"datum.kind=='major'"}],"mark":{"type":"text","fontSize":15,"baseline":"middle","dy":11,"color":"#000"},"encoding":{"x":{"field":"v","type":"quantitative"},"y":{"datum":250},"text":{"field":"label"}}},
  {"data":{"name":"yticks"},"transform":[{"filter":"datum.panel=='T' && datum.kind=='major'"}],"mark":{"type":"text","fontSize":15,"align":"right","baseline":"middle","dx":-7,"color":"#000"},"encoding":{"y":{"field":"v","type":"quantitative"},"x":{"datum":0},"text":{"field":"label"}}},
  {"data":{"name":"axtitles"},"transform":[{"filter":"datum.panel=='T' && datum.axis=='x'"}],"mark":{"type":"text","fontSize":18,"fontWeight":"bold","baseline":"middle","color":"#000"},"encoding":{"x":{"field":"x","type":"quantitative"},"y":{"field":"y","type":"quantitative"},"text":{"field":"text"}}},
  {"data":{"name":"axtitles"},"transform":[{"filter":"datum.panel=='T' && datum.axis=='y'"}],"mark":{"type":"text","fontSize":18,"fontWeight":"bold","baseline":"middle","angle":270,"color":"#000"},"encoding":{"x":{"field":"x","type":"quantitative"},"y":{"field":"y","type":"quantitative"},"text":{"field":"text"}}},
  {"data":{"name":"pts"},"transform":[{"filter":"datum.panel=='T'"}],"mark":{"type":"line","strokeWidth":1.2,"opacity":0.55},"encoding":{"x":{"field":"x","type":"quantitative"},"y":{"field":"y","type":"quantitative"},"color":{"field":"code","type":"nominal","scale":{"domain":["q","r","o","p","a","b","e"],"range":["#F7941D","#A8389F","#E0242B","#3AAA35","#6D6E71","#E0242B","#3A4FC4"]}},"strokeDash":{"field":"cfg","type":"nominal","scale":{"domain":["WB","WBNP"],"range":[[1,0],[7,5]]}}}},
  {"data":{"name":"pts"},"transform":[{"filter":"datum.panel=='T'"}],"mark":{"type":"text","fontSize":17,"fontWeight":"bold","baseline":"middle"},"encoding":{"x":{"field":"x","type":"quantitative"},"y":{"field":"y","type":"quantitative"},"color":{"field":"code","type":"nominal"},"text":{"field":"code"}}},
  {"data":{"name":"legbox"},"transform":[{"filter":"datum.panel=='T'"}],"mark":{"type":"rect","fill":"#fff","stroke":"#777","strokeWidth":1.2},"encoding":{"x":{"field":"x","type":"quantitative"},"x2":{"field":"x2"},"y":{"field":"y","type":"quantitative"},"y2":{"field":"y2"}}},
  {"data":{"name":"legend"},"transform":[{"filter":"datum.panel=='T'"}],"mark":{"type":"tick","orient":"horizontal","size":52,"thickness":1.2,"opacity":0.6},"encoding":{"x":{"field":"x","type":"quantitative"},"y":{"field":"y","type":"quantitative"},"color":{"field":"code","type":"nominal"}}},
  {"data":{"name":"legend"},"transform":[{"filter":"datum.panel=='T'"}],"mark":{"type":"text","fontSize":17,"fontWeight":"bold","baseline":"middle"},"encoding":{"x":{"field":"x","type":"quantitative"},"y":{"field":"y","type":"quantitative"},"color":{"field":"code","type":"nominal"},"text":{"field":"code"}}},
  {"data":{"name":"legend"},"transform":[{"filter":"datum.panel=='T'"}],"mark":{"type":"text","fontSize":14,"fontWeight":"bold","align":"left","baseline":"middle","dx":34,"color":"#000"},"encoding":{"x":{"field":"x","type":"quantitative"},"y":{"field":"y","type":"quantitative"},"text":{"field":"method"}}},
  {"data":{"name":"notes"},"transform":[{"filter":"datum.panel=='T' && datum.label=='WBNP'"}],"mark":{"type":"point","shape":"M-31 -12.5H31V12.5H-31Z","size":4,"filled":true,"fill":"#fff","stroke":"#555","strokeWidth":1.3,"opacity":1},"encoding":{"x":{"field":"x","type":"quantitative"},"y":{"field":"y","type":"quantitative"}}},
  {"data":{"name":"notes"},"transform":[{"filter":"datum.panel=='T' && datum.label=='WB'"}],"mark":{"type":"point","shape":"M-19 -12.5H19V12.5H-19Z","size":4,"filled":true,"fill":"#fff","stroke":"#555","strokeWidth":1.3,"opacity":1},"encoding":{"x":{"field":"x","type":"quantitative"},"y":{"field":"y","type":"quantitative"}}},
  {"data":{"name":"notes"},"transform":[{"filter":"datum.panel=='T'"}],"mark":{"type":"text","fontSize":18,"fontWeight":"bold","baseline":"middle","color":"#000"},"encoding":{"x":{"field":"x","type":"quantitative"},"y":{"field":"y","type":"quantitative"},"text":{"field":"label"}}}
 ]},
{"width":576,"height":416,
 "title":{"text":"CRM Results: Pressure Drag","subtitle":"Mach = 0.85 Rₙ = 5.0 million, Cₗ = 0.5, Fully Turbulent"},
 "layer":[
  {"data":{"name":"xticks"},"transform":[{"filter":"datum.kind=='major' && datum.v>0 && datum.v<3"}],"mark":{"type":"rule","color":"#808080","strokeDash":[6,5],"strokeWidth":1},"encoding":{"x":{"field":"v","type":"quantitative","scale":{"domain":[0,3],"nice":false,"zero":false}}}},
  {"data":{"name":"yticks"},"transform":[{"filter":"datum.panel=='P' && datum.kind=='major' && datum.v>125 && datum.v<160"}],"mark":{"type":"rule","color":"#808080","strokeDash":[6,5],"strokeWidth":1},"encoding":{"y":{"field":"v","type":"quantitative","scale":{"domain":[125,160],"nice":false,"zero":false}}}},
  {"data":{"name":"xticks"},"transform":[{"filter":"datum.kind=='major'"}],"mark":{"type":"tick","orient":"vertical","size":8,"thickness":1.2,"yOffset":-4,"color":"#333"},"encoding":{"x":{"field":"v","type":"quantitative"},"y":{"datum":125}}},
  {"data":{"name":"xticks"},"transform":[{"filter":"datum.kind=='minor'"}],"mark":{"type":"tick","orient":"vertical","size":4,"thickness":1.2,"yOffset":-2,"color":"#333"},"encoding":{"x":{"field":"v","type":"quantitative"},"y":{"datum":125}}},
  {"data":{"name":"yticks"},"transform":[{"filter":"datum.panel=='P' && datum.kind=='major'"}],"mark":{"type":"tick","orient":"horizontal","size":8,"thickness":1.2,"xOffset":4,"color":"#333"},"encoding":{"y":{"field":"v","type":"quantitative"},"x":{"datum":0}}},
  {"data":{"name":"yticks"},"transform":[{"filter":"datum.panel=='P' && datum.kind=='minor'"}],"mark":{"type":"tick","orient":"horizontal","size":4,"thickness":1.2,"xOffset":2,"color":"#333"},"encoding":{"y":{"field":"v","type":"quantitative"},"x":{"datum":0}}},
  {"data":{"name":"xticks"},"transform":[{"filter":"datum.kind=='major'"}],"mark":{"type":"text","fontSize":15,"baseline":"middle","dy":11,"color":"#000"},"encoding":{"x":{"field":"v","type":"quantitative"},"y":{"datum":125},"text":{"field":"label"}}},
  {"data":{"name":"yticks"},"transform":[{"filter":"datum.panel=='P' && datum.kind=='major'"}],"mark":{"type":"text","fontSize":15,"align":"right","baseline":"middle","dx":-7,"color":"#000"},"encoding":{"y":{"field":"v","type":"quantitative"},"x":{"datum":0},"text":{"field":"label"}}},
  {"data":{"name":"axtitles"},"transform":[{"filter":"datum.panel=='P' && datum.axis=='x'"}],"mark":{"type":"text","fontSize":18,"fontWeight":"bold","baseline":"middle","color":"#000"},"encoding":{"x":{"field":"x","type":"quantitative"},"y":{"field":"y","type":"quantitative"},"text":{"field":"text"}}},
  {"data":{"name":"axtitles"},"transform":[{"filter":"datum.panel=='P' && datum.axis=='y'"}],"mark":{"type":"text","fontSize":18,"fontWeight":"bold","baseline":"middle","angle":270,"color":"#000"},"encoding":{"x":{"field":"x","type":"quantitative"},"y":{"field":"y","type":"quantitative"},"text":{"field":"text"}}},
  {"data":{"name":"pts"},"transform":[{"filter":"datum.panel=='P'"}],"mark":{"type":"line","strokeWidth":1.2,"opacity":0.55},"encoding":{"x":{"field":"x","type":"quantitative"},"y":{"field":"y","type":"quantitative"},"color":{"field":"code","type":"nominal","scale":{"domain":["q","r","o","p","a","b","e"],"range":["#F7941D","#A8389F","#E0242B","#3AAA35","#6D6E71","#E0242B","#3A4FC4"]}},"strokeDash":{"field":"cfg","type":"nominal","scale":{"domain":["WB","WBNP"],"range":[[1,0],[7,5]]}}}},
  {"data":{"name":"pts"},"transform":[{"filter":"datum.panel=='P'"}],"mark":{"type":"text","fontSize":17,"fontWeight":"bold","baseline":"middle"},"encoding":{"x":{"field":"x","type":"quantitative"},"y":{"field":"y","type":"quantitative"},"color":{"field":"code","type":"nominal"},"text":{"field":"code"}}},
  {"data":{"name":"legbox"},"transform":[{"filter":"datum.panel=='P'"}],"mark":{"type":"rect","fill":"#fff","stroke":"#777","strokeWidth":1.2},"encoding":{"x":{"field":"x","type":"quantitative"},"x2":{"field":"x2"},"y":{"field":"y","type":"quantitative"},"y2":{"field":"y2"}}},
  {"data":{"name":"legend"},"transform":[{"filter":"datum.panel=='P'"}],"mark":{"type":"tick","orient":"horizontal","size":52,"thickness":1.2,"opacity":0.6},"encoding":{"x":{"field":"x","type":"quantitative"},"y":{"field":"y","type":"quantitative"},"color":{"field":"code","type":"nominal"}}},
  {"data":{"name":"legend"},"transform":[{"filter":"datum.panel=='P'"}],"mark":{"type":"text","fontSize":17,"fontWeight":"bold","baseline":"middle"},"encoding":{"x":{"field":"x","type":"quantitative"},"y":{"field":"y","type":"quantitative"},"color":{"field":"code","type":"nominal"},"text":{"field":"code"}}},
  {"data":{"name":"legend"},"transform":[{"filter":"datum.panel=='P'"}],"mark":{"type":"text","fontSize":14,"fontWeight":"bold","align":"left","baseline":"middle","dx":34,"color":"#000"},"encoding":{"x":{"field":"x","type":"quantitative"},"y":{"field":"y","type":"quantitative"},"text":{"field":"method"}}},
  {"data":{"name":"notes"},"transform":[{"filter":"datum.panel=='P' && datum.label=='WBNP'"}],"mark":{"type":"point","shape":"M-31 -12.5H31V12.5H-31Z","size":4,"filled":true,"fill":"#fff","stroke":"#555","strokeWidth":1.3,"opacity":1},"encoding":{"x":{"field":"x","type":"quantitative"},"y":{"field":"y","type":"quantitative"}}},
  {"data":{"name":"notes"},"transform":[{"filter":"datum.panel=='P' && datum.label=='WB'"}],"mark":{"type":"point","shape":"M-19 -12.5H19V12.5H-19Z","size":4,"filled":true,"fill":"#fff","stroke":"#555","strokeWidth":1.3,"opacity":1},"encoding":{"x":{"field":"x","type":"quantitative"},"y":{"field":"y","type":"quantitative"}}},
  {"data":{"name":"notes"},"transform":[{"filter":"datum.panel=='P'"}],"mark":{"type":"text","fontSize":18,"fontWeight":"bold","baseline":"middle","color":"#000"},"encoding":{"x":{"field":"x","type":"quantitative"},"y":{"field":"y","type":"quantitative"},"text":{"field":"label"}}}
 ]}
]},
{"spacing":21,"hconcat":[
{"width":576,"height":416,
 "title":{"text":"CRM Results: Skin Friction Drag","subtitle":"Mach = 0.85 Rₙ = 5.0 million, Cₗ = 0.5, Fully Turbulent"},
 "layer":[
  {"data":{"name":"xticks"},"transform":[{"filter":"datum.kind=='major' && datum.v>0 && datum.v<3"}],"mark":{"type":"rule","color":"#808080","strokeDash":[6,5],"strokeWidth":1},"encoding":{"x":{"field":"v","type":"quantitative","scale":{"domain":[0,3],"nice":false,"zero":false}}}},
  {"data":{"name":"yticks"},"transform":[{"filter":"datum.panel=='S' && datum.kind=='major' && datum.v>110 && datum.v<135"}],"mark":{"type":"rule","color":"#808080","strokeDash":[6,5],"strokeWidth":1},"encoding":{"y":{"field":"v","type":"quantitative","scale":{"domain":[110,135],"nice":false,"zero":false}}}},
  {"data":{"name":"xticks"},"transform":[{"filter":"datum.kind=='major'"}],"mark":{"type":"tick","orient":"vertical","size":8,"thickness":1.2,"yOffset":-4,"color":"#333"},"encoding":{"x":{"field":"v","type":"quantitative"},"y":{"datum":110}}},
  {"data":{"name":"xticks"},"transform":[{"filter":"datum.kind=='minor'"}],"mark":{"type":"tick","orient":"vertical","size":4,"thickness":1.2,"yOffset":-2,"color":"#333"},"encoding":{"x":{"field":"v","type":"quantitative"},"y":{"datum":110}}},
  {"data":{"name":"yticks"},"transform":[{"filter":"datum.panel=='S' && datum.kind=='major'"}],"mark":{"type":"tick","orient":"horizontal","size":8,"thickness":1.2,"xOffset":4,"color":"#333"},"encoding":{"y":{"field":"v","type":"quantitative"},"x":{"datum":0}}},
  {"data":{"name":"yticks"},"transform":[{"filter":"datum.panel=='S' && datum.kind=='minor'"}],"mark":{"type":"tick","orient":"horizontal","size":4,"thickness":1.2,"xOffset":2,"color":"#333"},"encoding":{"y":{"field":"v","type":"quantitative"},"x":{"datum":0}}},
  {"data":{"name":"xticks"},"transform":[{"filter":"datum.kind=='major'"}],"mark":{"type":"text","fontSize":15,"baseline":"middle","dy":11,"color":"#000"},"encoding":{"x":{"field":"v","type":"quantitative"},"y":{"datum":110},"text":{"field":"label"}}},
  {"data":{"name":"yticks"},"transform":[{"filter":"datum.panel=='S' && datum.kind=='major'"}],"mark":{"type":"text","fontSize":15,"align":"right","baseline":"middle","dx":-7,"color":"#000"},"encoding":{"y":{"field":"v","type":"quantitative"},"x":{"datum":0},"text":{"field":"label"}}},
  {"data":{"name":"axtitles"},"transform":[{"filter":"datum.panel=='S' && datum.axis=='x'"}],"mark":{"type":"text","fontSize":18,"fontWeight":"bold","baseline":"middle","color":"#000"},"encoding":{"x":{"field":"x","type":"quantitative"},"y":{"field":"y","type":"quantitative"},"text":{"field":"text"}}},
  {"data":{"name":"axtitles"},"transform":[{"filter":"datum.panel=='S' && datum.axis=='y'"}],"mark":{"type":"text","fontSize":18,"fontWeight":"bold","baseline":"middle","angle":270,"color":"#000"},"encoding":{"x":{"field":"x","type":"quantitative"},"y":{"field":"y","type":"quantitative"},"text":{"field":"text"}}},
  {"data":{"name":"pts"},"transform":[{"filter":"datum.panel=='S'"}],"mark":{"type":"line","strokeWidth":1.2,"opacity":0.55},"encoding":{"x":{"field":"x","type":"quantitative"},"y":{"field":"y","type":"quantitative"},"color":{"field":"code","type":"nominal","scale":{"domain":["q","r","o","p","a","b","e"],"range":["#F7941D","#A8389F","#E0242B","#3AAA35","#6D6E71","#E0242B","#3A4FC4"]}},"strokeDash":{"field":"cfg","type":"nominal","scale":{"domain":["WB","WBNP"],"range":[[1,0],[7,5]]}}}},
  {"data":{"name":"pts"},"transform":[{"filter":"datum.panel=='S'"}],"mark":{"type":"text","fontSize":17,"fontWeight":"bold","baseline":"middle"},"encoding":{"x":{"field":"x","type":"quantitative"},"y":{"field":"y","type":"quantitative"},"color":{"field":"code","type":"nominal"},"text":{"field":"code"}}},
  {"data":{"name":"legbox"},"transform":[{"filter":"datum.panel=='S'"}],"mark":{"type":"rect","fill":"#fff","stroke":"#777","strokeWidth":1.2},"encoding":{"x":{"field":"x","type":"quantitative"},"x2":{"field":"x2"},"y":{"field":"y","type":"quantitative"},"y2":{"field":"y2"}}},
  {"data":{"name":"legend"},"transform":[{"filter":"datum.panel=='S'"}],"mark":{"type":"tick","orient":"horizontal","size":52,"thickness":1.2,"opacity":0.6},"encoding":{"x":{"field":"x","type":"quantitative"},"y":{"field":"y","type":"quantitative"},"color":{"field":"code","type":"nominal"}}},
  {"data":{"name":"legend"},"transform":[{"filter":"datum.panel=='S'"}],"mark":{"type":"text","fontSize":17,"fontWeight":"bold","baseline":"middle"},"encoding":{"x":{"field":"x","type":"quantitative"},"y":{"field":"y","type":"quantitative"},"color":{"field":"code","type":"nominal"},"text":{"field":"code"}}},
  {"data":{"name":"legend"},"transform":[{"filter":"datum.panel=='S'"}],"mark":{"type":"text","fontSize":14,"fontWeight":"bold","align":"left","baseline":"middle","dx":34,"color":"#000"},"encoding":{"x":{"field":"x","type":"quantitative"},"y":{"field":"y","type":"quantitative"},"text":{"field":"method"}}},
  {"data":{"name":"notes"},"transform":[{"filter":"datum.panel=='S' && datum.label=='WBNP'"}],"mark":{"type":"point","shape":"M-31 -12.5H31V12.5H-31Z","size":4,"filled":true,"fill":"#fff","stroke":"#555","strokeWidth":1.3,"opacity":1},"encoding":{"x":{"field":"x","type":"quantitative"},"y":{"field":"y","type":"quantitative"}}},
  {"data":{"name":"notes"},"transform":[{"filter":"datum.panel=='S' && datum.label=='WB'"}],"mark":{"type":"point","shape":"M-19 -12.5H19V12.5H-19Z","size":4,"filled":true,"fill":"#fff","stroke":"#555","strokeWidth":1.3,"opacity":1},"encoding":{"x":{"field":"x","type":"quantitative"},"y":{"field":"y","type":"quantitative"}}},
  {"data":{"name":"notes"},"transform":[{"filter":"datum.panel=='S'"}],"mark":{"type":"text","fontSize":18,"fontWeight":"bold","baseline":"middle","color":"#000"},"encoding":{"x":{"field":"x","type":"quantitative"},"y":{"field":"y","type":"quantitative"},"text":{"field":"label"}}}
 ]},
{"width":576,"height":416,
 "title":{"text":"CRM Results: Pitching Moment Coefficient","subtitle":"Mach = 0.85 Rₙ = 5.0 million, Cₗ = 0.5, Fully Turbulent"},
 "layer":[
  {"data":{"name":"xticks"},"transform":[{"filter":"datum.kind=='major' && datum.v>0 && datum.v<3"}],"mark":{"type":"rule","color":"#808080","strokeDash":[6,5],"strokeWidth":1},"encoding":{"x":{"field":"v","type":"quantitative","scale":{"domain":[0,3],"nice":false,"zero":false}}}},
  {"data":{"name":"yticks"},"transform":[{"filter":"datum.panel=='M' && datum.kind=='major' && datum.v>-0.1 && datum.v<-0.07"}],"mark":{"type":"rule","color":"#808080","strokeDash":[6,5],"strokeWidth":1},"encoding":{"y":{"field":"v","type":"quantitative","scale":{"domain":[-0.1,-0.07],"nice":false,"zero":false}}}},
  {"data":{"name":"xticks"},"transform":[{"filter":"datum.kind=='major'"}],"mark":{"type":"tick","orient":"vertical","size":8,"thickness":1.2,"yOffset":-4,"color":"#333"},"encoding":{"x":{"field":"v","type":"quantitative"},"y":{"datum":-0.1}}},
  {"data":{"name":"xticks"},"transform":[{"filter":"datum.kind=='minor'"}],"mark":{"type":"tick","orient":"vertical","size":4,"thickness":1.2,"yOffset":-2,"color":"#333"},"encoding":{"x":{"field":"v","type":"quantitative"},"y":{"datum":-0.1}}},
  {"data":{"name":"yticks"},"transform":[{"filter":"datum.panel=='M' && datum.kind=='major'"}],"mark":{"type":"tick","orient":"horizontal","size":8,"thickness":1.2,"xOffset":4,"color":"#333"},"encoding":{"y":{"field":"v","type":"quantitative"},"x":{"datum":0}}},
  {"data":{"name":"yticks"},"transform":[{"filter":"datum.panel=='M' && datum.kind=='minor'"}],"mark":{"type":"tick","orient":"horizontal","size":4,"thickness":1.2,"xOffset":2,"color":"#333"},"encoding":{"y":{"field":"v","type":"quantitative"},"x":{"datum":0}}},
  {"data":{"name":"xticks"},"transform":[{"filter":"datum.kind=='major'"}],"mark":{"type":"text","fontSize":15,"baseline":"middle","dy":11,"color":"#000"},"encoding":{"x":{"field":"v","type":"quantitative"},"y":{"datum":-0.1},"text":{"field":"label"}}},
  {"data":{"name":"yticks"},"transform":[{"filter":"datum.panel=='M' && datum.kind=='major'"}],"mark":{"type":"text","fontSize":15,"align":"right","baseline":"middle","dx":-7,"color":"#000"},"encoding":{"y":{"field":"v","type":"quantitative"},"x":{"datum":0},"text":{"field":"label"}}},
  {"data":{"name":"axtitles"},"transform":[{"filter":"datum.panel=='M' && datum.axis=='x'"}],"mark":{"type":"text","fontSize":18,"fontWeight":"bold","baseline":"middle","color":"#000"},"encoding":{"x":{"field":"x","type":"quantitative"},"y":{"field":"y","type":"quantitative"},"text":{"field":"text"}}},
  {"data":{"name":"axtitles"},"transform":[{"filter":"datum.panel=='M' && datum.axis=='y'"}],"mark":{"type":"text","fontSize":18,"fontWeight":"bold","baseline":"middle","angle":270,"color":"#000"},"encoding":{"x":{"field":"x","type":"quantitative"},"y":{"field":"y","type":"quantitative"},"text":{"field":"text"}}},
  {"data":{"name":"pts"},"transform":[{"filter":"datum.panel=='M'"}],"mark":{"type":"line","strokeWidth":1.2,"opacity":0.55},"encoding":{"x":{"field":"x","type":"quantitative"},"y":{"field":"y","type":"quantitative"},"color":{"field":"code","type":"nominal","scale":{"domain":["q","r","o","p","a","b","e"],"range":["#F7941D","#A8389F","#E0242B","#3AAA35","#6D6E71","#E0242B","#3A4FC4"]}},"strokeDash":{"field":"cfg","type":"nominal","scale":{"domain":["WB","WBNP"],"range":[[1,0],[7,5]]}}}},
  {"data":{"name":"pts"},"transform":[{"filter":"datum.panel=='M'"}],"mark":{"type":"text","fontSize":17,"fontWeight":"bold","baseline":"middle"},"encoding":{"x":{"field":"x","type":"quantitative"},"y":{"field":"y","type":"quantitative"},"color":{"field":"code","type":"nominal"},"text":{"field":"code"}}},
  {"data":{"name":"legbox"},"transform":[{"filter":"datum.panel=='M'"}],"mark":{"type":"rect","fill":"#fff","stroke":"#777","strokeWidth":1.2},"encoding":{"x":{"field":"x","type":"quantitative"},"x2":{"field":"x2"},"y":{"field":"y","type":"quantitative"},"y2":{"field":"y2"}}},
  {"data":{"name":"legend"},"transform":[{"filter":"datum.panel=='M'"}],"mark":{"type":"tick","orient":"horizontal","size":52,"thickness":1.2,"opacity":0.6},"encoding":{"x":{"field":"x","type":"quantitative"},"y":{"field":"y","type":"quantitative"},"color":{"field":"code","type":"nominal"}}},
  {"data":{"name":"legend"},"transform":[{"filter":"datum.panel=='M'"}],"mark":{"type":"text","fontSize":17,"fontWeight":"bold","baseline":"middle"},"encoding":{"x":{"field":"x","type":"quantitative"},"y":{"field":"y","type":"quantitative"},"color":{"field":"code","type":"nominal"},"text":{"field":"code"}}},
  {"data":{"name":"legend"},"transform":[{"filter":"datum.panel=='M'"}],"mark":{"type":"text","fontSize":14,"fontWeight":"bold","align":"left","baseline":"middle","dx":34,"color":"#000"},"encoding":{"x":{"field":"x","type":"quantitative"},"y":{"field":"y","type":"quantitative"},"text":{"field":"method"}}},
  {"data":{"name":"notes"},"transform":[{"filter":"datum.panel=='M' && datum.label=='WBNP'"}],"mark":{"type":"point","shape":"M-31 -12.5H31V12.5H-31Z","size":4,"filled":true,"fill":"#fff","stroke":"#555","strokeWidth":1.3,"opacity":1},"encoding":{"x":{"field":"x","type":"quantitative"},"y":{"field":"y","type":"quantitative"}}},
  {"data":{"name":"notes"},"transform":[{"filter":"datum.panel=='M' && datum.label=='WB'"}],"mark":{"type":"point","shape":"M-19 -12.5H19V12.5H-19Z","size":4,"filled":true,"fill":"#fff","stroke":"#555","strokeWidth":1.3,"opacity":1},"encoding":{"x":{"field":"x","type":"quantitative"},"y":{"field":"y","type":"quantitative"}}},
  {"data":{"name":"notes"},"transform":[{"filter":"datum.panel=='M'"}],"mark":{"type":"text","fontSize":18,"fontWeight":"bold","baseline":"middle","color":"#000"},"encoding":{"x":{"field":"x","type":"quantitative"},"y":{"field":"y","type":"quantitative"},"text":{"field":"label"}}}
 ]}
]},
{"spacing":21,"hconcat":[
{"width":576,"height":416,
 "title":{"text":"CRM Results: Angle-of-Attack","subtitle":"Mach = 0.85 Rₙ = 5.0 million, Cₗ = 0.5, Fully Turbulent"},
 "layer":[
  {"data":{"name":"xticks"},"transform":[{"filter":"datum.kind=='major' && datum.v>0 && datum.v<3"}],"mark":{"type":"rule","color":"#808080","strokeDash":[6,5],"strokeWidth":1},"encoding":{"x":{"field":"v","type":"quantitative","scale":{"domain":[0,3],"nice":false,"zero":false}}}},
  {"data":{"name":"yticks"},"transform":[{"filter":"datum.panel=='A' && datum.kind=='major' && datum.v>2.4 && datum.v<2.85"}],"mark":{"type":"rule","color":"#808080","strokeDash":[6,5],"strokeWidth":1},"encoding":{"y":{"field":"v","type":"quantitative","scale":{"domain":[2.4,2.85],"nice":false,"zero":false}}}},
  {"data":{"name":"xticks"},"transform":[{"filter":"datum.kind=='major'"}],"mark":{"type":"tick","orient":"vertical","size":8,"thickness":1.2,"yOffset":-4,"color":"#333"},"encoding":{"x":{"field":"v","type":"quantitative"},"y":{"datum":2.4}}},
  {"data":{"name":"xticks"},"transform":[{"filter":"datum.kind=='minor'"}],"mark":{"type":"tick","orient":"vertical","size":4,"thickness":1.2,"yOffset":-2,"color":"#333"},"encoding":{"x":{"field":"v","type":"quantitative"},"y":{"datum":2.4}}},
  {"data":{"name":"yticks"},"transform":[{"filter":"datum.panel=='A' && datum.kind=='major'"}],"mark":{"type":"tick","orient":"horizontal","size":8,"thickness":1.2,"xOffset":4,"color":"#333"},"encoding":{"y":{"field":"v","type":"quantitative"},"x":{"datum":0}}},
  {"data":{"name":"yticks"},"transform":[{"filter":"datum.panel=='A' && datum.kind=='minor'"}],"mark":{"type":"tick","orient":"horizontal","size":4,"thickness":1.2,"xOffset":2,"color":"#333"},"encoding":{"y":{"field":"v","type":"quantitative"},"x":{"datum":0}}},
  {"data":{"name":"xticks"},"transform":[{"filter":"datum.kind=='major'"}],"mark":{"type":"text","fontSize":15,"baseline":"middle","dy":11,"color":"#000"},"encoding":{"x":{"field":"v","type":"quantitative"},"y":{"datum":2.4},"text":{"field":"label"}}},
  {"data":{"name":"yticks"},"transform":[{"filter":"datum.panel=='A' && datum.kind=='major'"}],"mark":{"type":"text","fontSize":15,"align":"right","baseline":"middle","dx":-7,"color":"#000"},"encoding":{"y":{"field":"v","type":"quantitative"},"x":{"datum":0},"text":{"field":"label"}}},
  {"data":{"name":"axtitles"},"transform":[{"filter":"datum.panel=='A' && datum.axis=='x'"}],"mark":{"type":"text","fontSize":18,"fontWeight":"bold","baseline":"middle","color":"#000"},"encoding":{"x":{"field":"x","type":"quantitative"},"y":{"field":"y","type":"quantitative"},"text":{"field":"text"}}},
  {"data":{"name":"axtitles"},"transform":[{"filter":"datum.panel=='A' && datum.axis=='y'"}],"mark":{"type":"text","fontSize":18,"fontWeight":"bold","baseline":"middle","angle":270,"color":"#000"},"encoding":{"x":{"field":"x","type":"quantitative"},"y":{"field":"y","type":"quantitative"},"text":{"field":"text"}}},
  {"data":{"name":"pts"},"transform":[{"filter":"datum.panel=='A'"}],"mark":{"type":"line","strokeWidth":1.2,"opacity":0.55},"encoding":{"x":{"field":"x","type":"quantitative"},"y":{"field":"y","type":"quantitative"},"color":{"field":"code","type":"nominal","scale":{"domain":["q","r","o","p","a","b","e"],"range":["#F7941D","#A8389F","#E0242B","#3AAA35","#6D6E71","#E0242B","#3A4FC4"]}},"strokeDash":{"field":"cfg","type":"nominal","scale":{"domain":["WB","WBNP"],"range":[[1,0],[7,5]]}}}},
  {"data":{"name":"pts"},"transform":[{"filter":"datum.panel=='A'"}],"mark":{"type":"text","fontSize":17,"fontWeight":"bold","baseline":"middle"},"encoding":{"x":{"field":"x","type":"quantitative"},"y":{"field":"y","type":"quantitative"},"color":{"field":"code","type":"nominal"},"text":{"field":"code"}}},
  {"data":{"name":"legbox"},"transform":[{"filter":"datum.panel=='A'"}],"mark":{"type":"rect","fill":"#fff","stroke":"#777","strokeWidth":1.2},"encoding":{"x":{"field":"x","type":"quantitative"},"x2":{"field":"x2"},"y":{"field":"y","type":"quantitative"},"y2":{"field":"y2"}}},
  {"data":{"name":"legend"},"transform":[{"filter":"datum.panel=='A'"}],"mark":{"type":"tick","orient":"horizontal","size":52,"thickness":1.2,"opacity":0.6},"encoding":{"x":{"field":"x","type":"quantitative"},"y":{"field":"y","type":"quantitative"},"color":{"field":"code","type":"nominal"}}},
  {"data":{"name":"legend"},"transform":[{"filter":"datum.panel=='A'"}],"mark":{"type":"text","fontSize":17,"fontWeight":"bold","baseline":"middle"},"encoding":{"x":{"field":"x","type":"quantitative"},"y":{"field":"y","type":"quantitative"},"color":{"field":"code","type":"nominal"},"text":{"field":"code"}}},
  {"data":{"name":"legend"},"transform":[{"filter":"datum.panel=='A'"}],"mark":{"type":"text","fontSize":14,"fontWeight":"bold","align":"left","baseline":"middle","dx":34,"color":"#000"},"encoding":{"x":{"field":"x","type":"quantitative"},"y":{"field":"y","type":"quantitative"},"text":{"field":"method"}}},
  {"data":{"name":"notes"},"transform":[{"filter":"datum.panel=='A' && datum.label=='WBNP'"}],"mark":{"type":"point","shape":"M-31 -12.5H31V12.5H-31Z","size":4,"filled":true,"fill":"#fff","stroke":"#555","strokeWidth":1.3,"opacity":1},"encoding":{"x":{"field":"x","type":"quantitative"},"y":{"field":"y","type":"quantitative"}}},
  {"data":{"name":"notes"},"transform":[{"filter":"datum.panel=='A' && datum.label=='WB'"}],"mark":{"type":"point","shape":"M-19 -12.5H19V12.5H-19Z","size":4,"filled":true,"fill":"#fff","stroke":"#555","strokeWidth":1.3,"opacity":1},"encoding":{"x":{"field":"x","type":"quantitative"},"y":{"field":"y","type":"quantitative"}}},
  {"data":{"name":"notes"},"transform":[{"filter":"datum.panel=='A'"}],"mark":{"type":"text","fontSize":18,"fontWeight":"bold","baseline":"middle","color":"#000"},"encoding":{"x":{"field":"x","type":"quantitative"},"y":{"field":"y","type":"quantitative"},"text":{"field":"label"}}}
 ]},
{"width":576,"height":416,
 "title":{"text":"CRM Results: Wing Body Nacelle Pylon Drag Increment","subtitle":"Mach = 0.85 Rₙ = 5.0 million, Cₗ = 0.5, Fully Turbulent"},
 "layer":[
  {"data":{"name":"xticks"},"transform":[{"filter":"datum.kind=='major' && datum.v>0 && datum.v<3"}],"mark":{"type":"rule","color":"#808080","strokeDash":[6,5],"strokeWidth":1},"encoding":{"x":{"field":"v","type":"quantitative","scale":{"domain":[0,3],"nice":false,"zero":false}}}},
  {"data":{"name":"yticks"},"transform":[{"filter":"datum.panel=='I' && datum.kind=='major' && datum.v>20 && datum.v<27"}],"mark":{"type":"rule","color":"#808080","strokeDash":[6,5],"strokeWidth":1},"encoding":{"y":{"field":"v","type":"quantitative","scale":{"domain":[20,27],"nice":false,"zero":false}}}},
  {"data":{"name":"xticks"},"transform":[{"filter":"datum.kind=='major'"}],"mark":{"type":"tick","orient":"vertical","size":8,"thickness":1.2,"yOffset":-4,"color":"#333"},"encoding":{"x":{"field":"v","type":"quantitative"},"y":{"datum":20}}},
  {"data":{"name":"xticks"},"transform":[{"filter":"datum.kind=='minor'"}],"mark":{"type":"tick","orient":"vertical","size":4,"thickness":1.2,"yOffset":-2,"color":"#333"},"encoding":{"x":{"field":"v","type":"quantitative"},"y":{"datum":20}}},
  {"data":{"name":"yticks"},"transform":[{"filter":"datum.panel=='I' && datum.kind=='major'"}],"mark":{"type":"tick","orient":"horizontal","size":8,"thickness":1.2,"xOffset":4,"color":"#333"},"encoding":{"y":{"field":"v","type":"quantitative"},"x":{"datum":0}}},
  {"data":{"name":"yticks"},"transform":[{"filter":"datum.panel=='I' && datum.kind=='minor'"}],"mark":{"type":"tick","orient":"horizontal","size":4,"thickness":1.2,"xOffset":2,"color":"#333"},"encoding":{"y":{"field":"v","type":"quantitative"},"x":{"datum":0}}},
  {"data":{"name":"xticks"},"transform":[{"filter":"datum.kind=='major'"}],"mark":{"type":"text","fontSize":15,"baseline":"middle","dy":11,"color":"#000"},"encoding":{"x":{"field":"v","type":"quantitative"},"y":{"datum":20},"text":{"field":"label"}}},
  {"data":{"name":"yticks"},"transform":[{"filter":"datum.panel=='I' && datum.kind=='major'"}],"mark":{"type":"text","fontSize":15,"align":"right","baseline":"middle","dx":-7,"color":"#000"},"encoding":{"y":{"field":"v","type":"quantitative"},"x":{"datum":0},"text":{"field":"label"}}},
  {"data":{"name":"axtitles"},"transform":[{"filter":"datum.panel=='I' && datum.axis=='x'"}],"mark":{"type":"text","fontSize":18,"fontWeight":"bold","baseline":"middle","color":"#000"},"encoding":{"x":{"field":"x","type":"quantitative"},"y":{"field":"y","type":"quantitative"},"text":{"field":"text"}}},
  {"data":{"name":"axtitles"},"transform":[{"filter":"datum.panel=='I' && datum.axis=='y'"}],"mark":{"type":"text","fontSize":18,"fontWeight":"bold","baseline":"middle","angle":270,"color":"#000"},"encoding":{"x":{"field":"x","type":"quantitative"},"y":{"field":"y","type":"quantitative"},"text":{"field":"text"}}},
  {"data":{"name":"bars"},"mark":{"type":"rect","color":"#000"},"encoding":{"x":{"field":"x","type":"quantitative"},"x2":{"field":"x2"},"y":{"field":"y","type":"quantitative"},"y2":{"field":"y2"}}},
  {"data":{"name":"pts"},"transform":[{"filter":"datum.panel=='I'"}],"mark":{"type":"line","strokeWidth":1.2,"opacity":0.55},"encoding":{"x":{"field":"x","type":"quantitative"},"y":{"field":"y","type":"quantitative"},"color":{"field":"code","type":"nominal","scale":{"domain":["q","r","o","p","a","b","e"],"range":["#F7941D","#A8389F","#E0242B","#3AAA35","#6D6E71","#E0242B","#3A4FC4"]}},"strokeDash":{"field":"cfg","type":"nominal","scale":{"domain":["WB","WBNP"],"range":[[1,0],[7,5]]}}}},
  {"data":{"name":"pts"},"transform":[{"filter":"datum.panel=='I'"}],"mark":{"type":"text","fontSize":17,"fontWeight":"bold","baseline":"middle"},"encoding":{"x":{"field":"x","type":"quantitative"},"y":{"field":"y","type":"quantitative"},"color":{"field":"code","type":"nominal"},"text":{"field":"code"}}},
  {"data":{"name":"legbox"},"transform":[{"filter":"datum.panel=='I'"}],"mark":{"type":"rect","fill":"#fff","stroke":"#777","strokeWidth":1.2},"encoding":{"x":{"field":"x","type":"quantitative"},"x2":{"field":"x2"},"y":{"field":"y","type":"quantitative"},"y2":{"field":"y2"}}},
  {"data":{"name":"legend"},"transform":[{"filter":"datum.panel=='I'"}],"mark":{"type":"tick","orient":"horizontal","size":52,"thickness":1.2,"opacity":0.6},"encoding":{"x":{"field":"x","type":"quantitative"},"y":{"field":"y","type":"quantitative"},"color":{"field":"code","type":"nominal"}}},
  {"data":{"name":"legend"},"transform":[{"filter":"datum.panel=='I'"}],"mark":{"type":"text","fontSize":17,"fontWeight":"bold","baseline":"middle"},"encoding":{"x":{"field":"x","type":"quantitative"},"y":{"field":"y","type":"quantitative"},"color":{"field":"code","type":"nominal"},"text":{"field":"code"}}},
  {"data":{"name":"legend"},"transform":[{"filter":"datum.panel=='I'"}],"mark":{"type":"text","fontSize":14,"fontWeight":"bold","align":"left","baseline":"middle","dx":34,"color":"#000"},"encoding":{"x":{"field":"x","type":"quantitative"},"y":{"field":"y","type":"quantitative"},"text":{"field":"method"}}},
  {"data":{"name":"notes"},"transform":[{"filter":"datum.panel=='I'"}],"mark":{"type":"text","fontSize":18,"fontWeight":"bold","baseline":"middle","color":"#000"},"encoding":{"x":{"field":"x","type":"quantitative"},"y":{"field":"y","type":"quantitative"},"text":{"field":"label"}}}
 ]}
]}
]
}
